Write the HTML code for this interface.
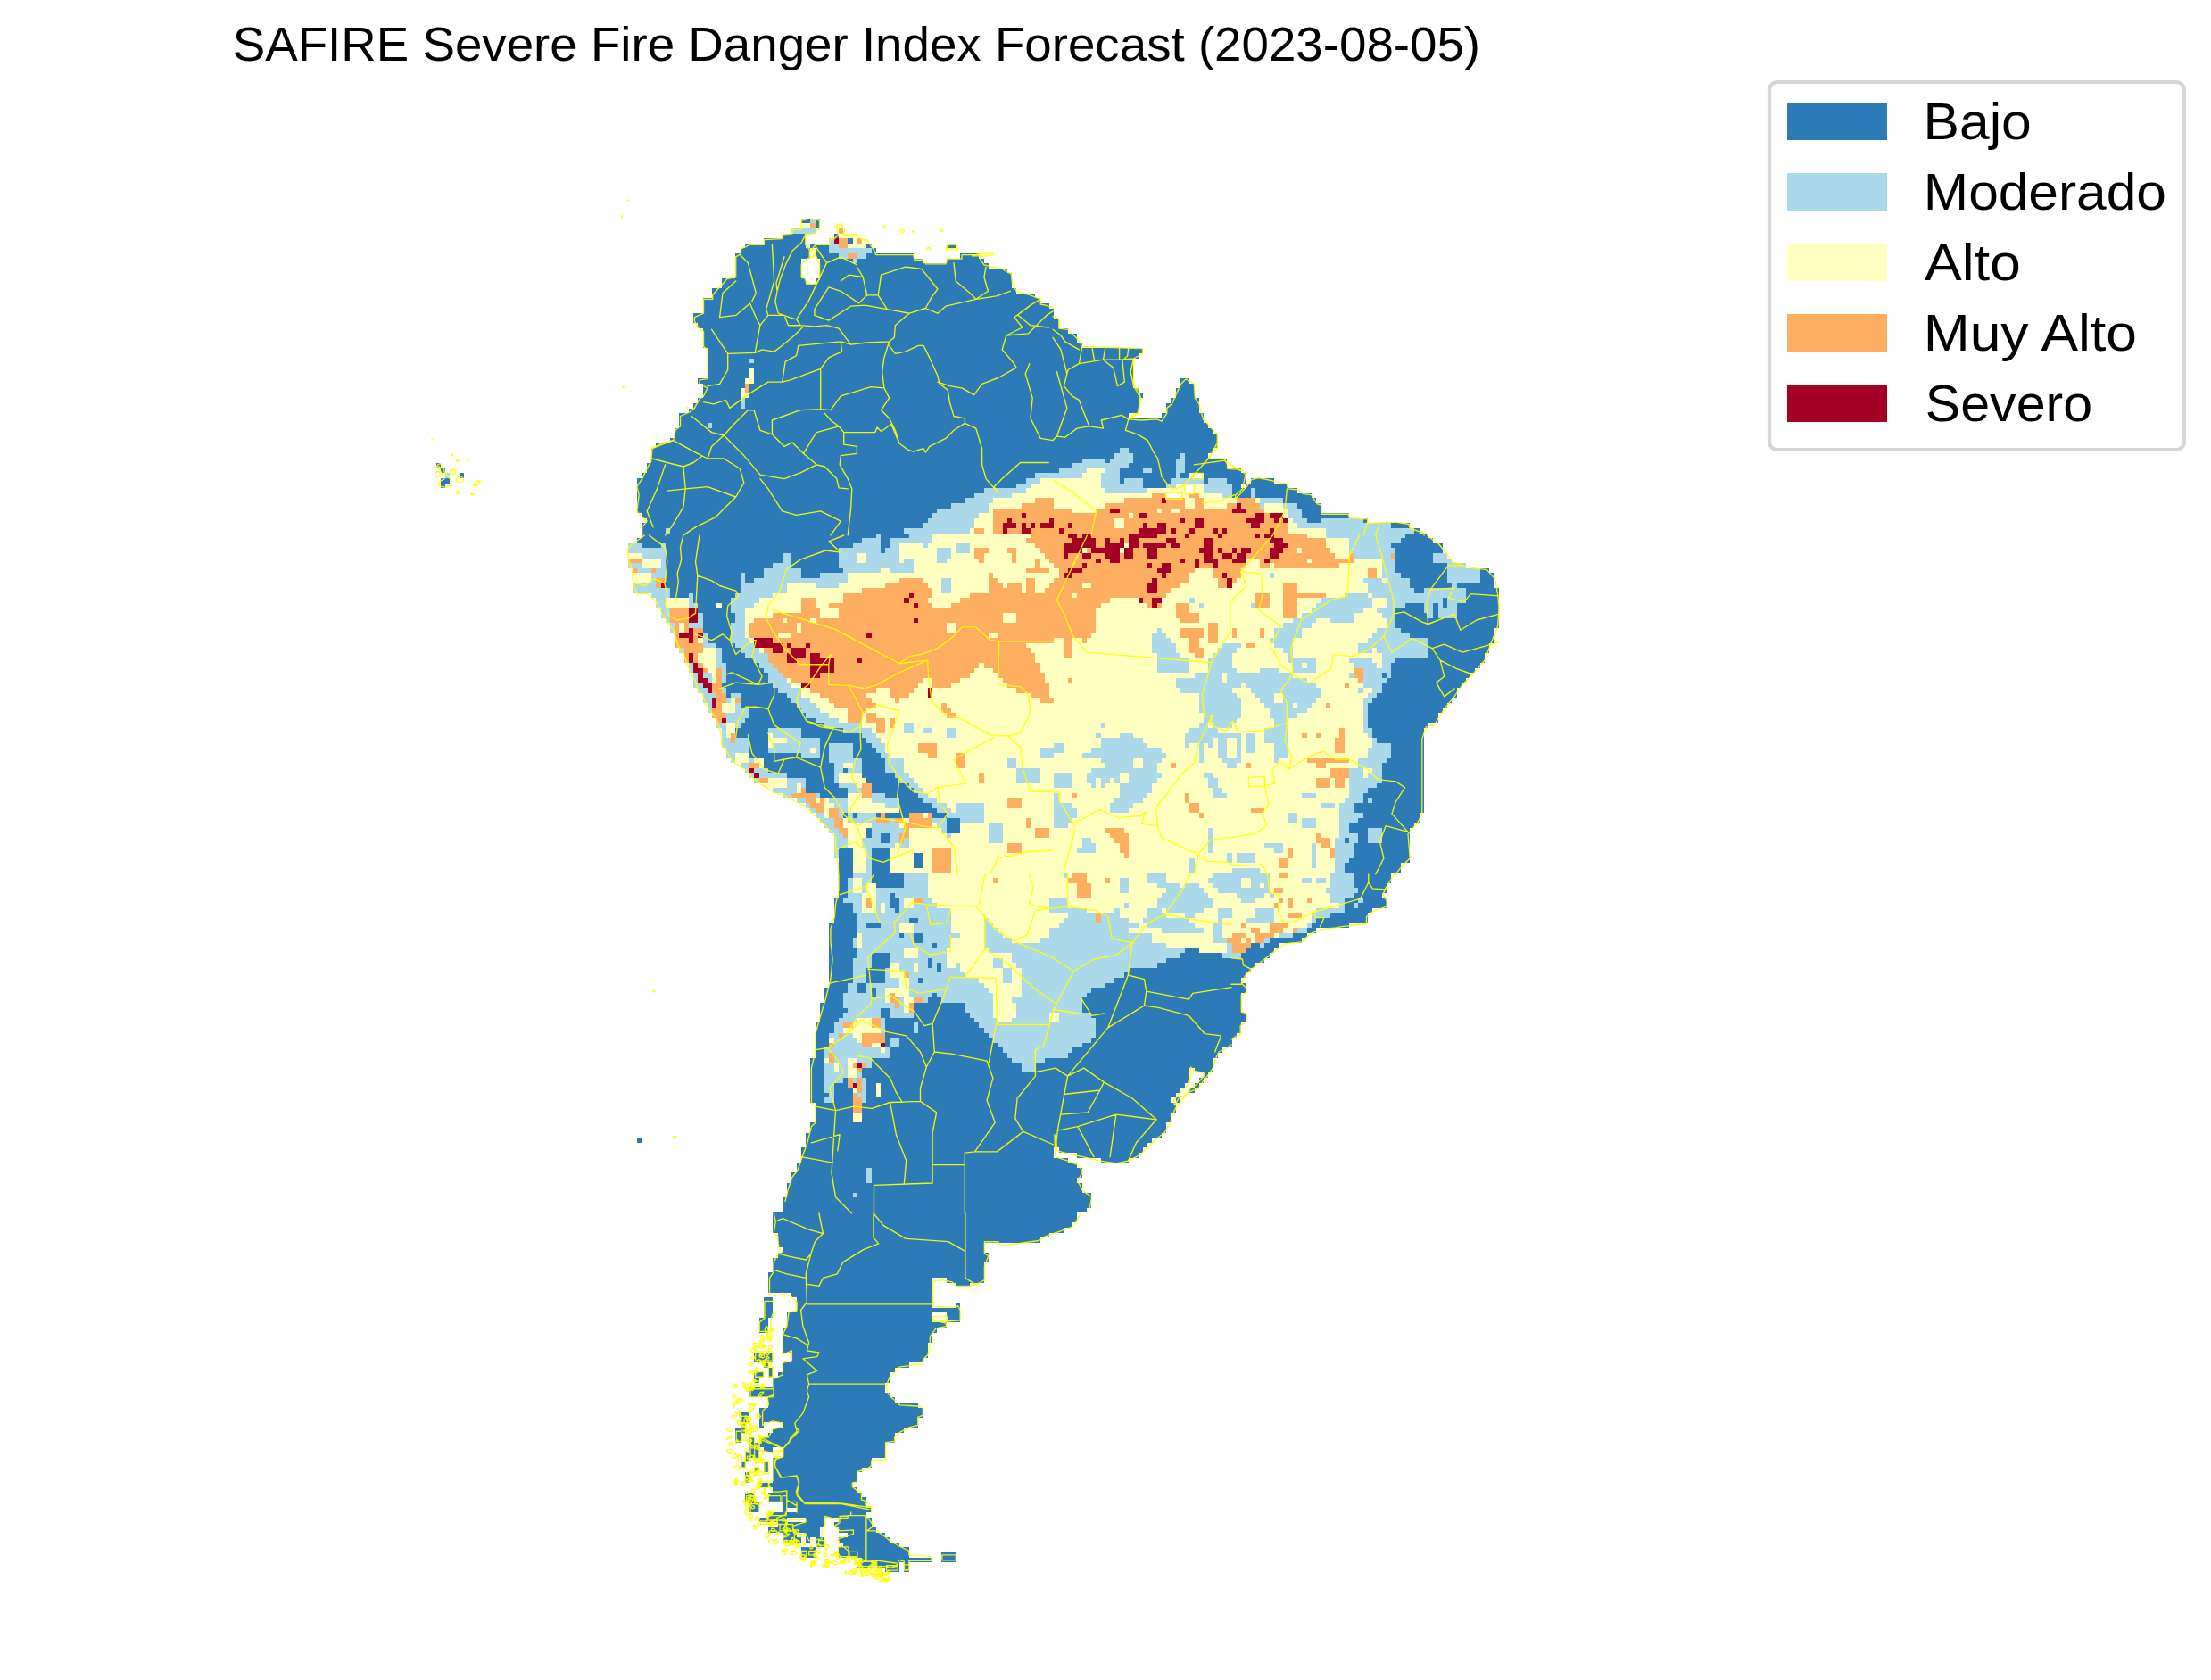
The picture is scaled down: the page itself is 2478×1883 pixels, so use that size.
<!DOCTYPE html>
<html><head><meta charset="utf-8"><title>SAFIRE Severe Fire Danger Index Forecast</title>
<style>
html,body{margin:0;padding:0;background:#fff;}
body{width:2478px;height:1883px;overflow:hidden;font-family:"Liberation Sans",sans-serif;}
svg{display:block}
text{font-family:"Liberation Sans",sans-serif;fill:#000}
</style></head><body>
<svg width="2478" height="1883" viewBox="0 0 2478 1883">
<rect width="2478" height="1883" fill="#fff"/>
<g shape-rendering="crispEdges">
<path fill="#2c7bb6" d="M898 245h10v5h-10zM914 245h5v5h-5zM914 250h5v6h-5zM877 262h26v5h-26zM935 262h5v5h-5zM856 267h47v6h-47zM950 267h6v6h-6zM835 273h68v5h-68zM908 273h21v5h-21zM971 273h6v5h-6zM1061 273h10v5h-10zM830 278h78v6h-78zM914 278h15v6h-15zM977 278h5v6h-5zM824 284h84v6h-84zM914 284h26v6h-26zM971 284h53v6h-53zM1076 284h21v6h-21zM824 290h74v5h-74zM919 290h37v5h-37zM961 290h73v5h-73zM1061 290h42v5h-42zM824 295h74v6h-74zM919 295h189v6h-189zM824 301h74v5h-74zM919 301h210v5h-210zM824 306h74v6h-74zM919 306h215v6h-215zM809 312h94v6h-94zM914 312h220v6h-220zM809 318h325v5h-325zM798 323h341v6h-341zM798 329h362v5h-362zM788 334h378v6h-378zM788 340h388v6h-388zM788 346h393v5h-393zM777 351h404v6h-404zM777 357h410v5h-410zM782 362h405v6h-405zM788 368h409v6h-409zM788 374h419v5h-419zM788 379h419v6h-419zM788 385h425v5h-425zM793 390h488v6h-488zM793 396h483v6h-483zM793 402h47v5h-47zM845 402h425v5h-425zM793 407h477v6h-477zM793 413h47v5h-47zM845 413h425v5h-425zM793 418h47v6h-47zM845 418h425v6h-425zM782 424h53v6h-53zM845 424h425v6h-425zM1323 424h10v6h-10zM788 430h47v5h-47zM840 430h430v5h-430zM1323 430h16v5h-16zM788 435h42v6h-42zM840 435h436v6h-436zM1318 435h21v6h-21zM788 441h42v5h-42zM840 441h441v5h-441zM1318 441h21v5h-21zM782 446h48v6h-48zM835 446h441v6h-441zM1312 446h32v6h-32zM777 452h53v6h-53zM835 452h441v6h-441zM1307 452h37v6h-37zM772 458h504v5h-504zM1307 458h37v5h-37zM761 463h504v6h-504zM1302 463h47v6h-47zM761 469h588v5h-588zM761 474h32v6h-32zM798 474h556v6h-556zM756 480h604v6h-604zM756 486h609v5h-609zM751 491h614v6h-614zM735 497h630v5h-630zM730 502h525v6h-525zM1265 502h95v6h-95zM730 508h519v6h-519zM1270 508h53v6h-53zM1328 508h26v6h-26zM730 514h483v5h-483zM1239 514h5v5h-5zM1270 514h48v5h-48zM1328 514h47v5h-47zM489 519h5v6h-5zM725 519h477v6h-477zM1265 519h53v6h-53zM1328 519h47v6h-47zM494 525h5v5h-5zM725 525h462v5h-462zM1255 525h26v5h-26zM1291 525h27v5h-27zM1328 525h63v5h-63zM515 530h5v6h-5zM720 530h440v6h-440zM1255 530h63v6h-63zM1323 530h10v6h-10zM1349 530h47v6h-47zM494 536h10v6h-10zM714 536h436v6h-436zM1255 536h5v6h-5zM1281 536h31v6h-31zM1349 536h5v6h-5zM1375 536h21v6h-21zM1402 536h26v6h-26zM494 542h5v5h-5zM714 542h425v5h-425zM1281 542h26v5h-26zM1381 542h10v5h-10zM1396 542h48v5h-48zM714 547h389v6h-389zM1381 547h21v6h-21zM1407 547h47v6h-47zM714 553h378v5h-378zM1381 553h21v5h-21zM1407 553h63v5h-63zM714 558h368v6h-368zM1438 558h37v6h-37zM714 564h352v6h-352zM1454 564h26v6h-26zM714 570h336v5h-336zM1459 570h21v5h-21zM720 575h325v6h-325zM1459 575h53v6h-53zM725 581h315v5h-315zM1465 581h15v5h-15zM1528 581h5v5h-5zM720 586h314v6h-314zM1559 586h21v6h-21zM720 592h26v6h-26zM751 592h262v6h-262zM1585 592h6v6h-6zM720 598h262v5h-262zM987 598h32v5h-32zM1575 598h26v5h-26zM714 603h252v6h-252zM987 603h11v6h-11zM1570 603h36v6h-36zM720 609h21v5h-21zM746 609h210v5h-210zM987 609h11v5h-11zM1559 609h58v5h-58zM746 614h194v6h-194zM987 614h5v6h-5zM1564 614h53v6h-53zM746 620h131v6h-131zM887 620h53v6h-53zM1564 620h42v6h-42zM746 626h131v5h-131zM887 626h53v5h-53zM1564 626h42v5h-42zM746 631h120v6h-120zM887 631h53v6h-53zM1564 631h58v6h-58zM746 637h110v5h-110zM898 637h47v5h-47zM1564 637h58v5h-58zM1659 637h10v5h-10zM746 642h84v6h-84zM835 642h21v6h-21zM898 642h21v6h-21zM1570 642h52v6h-52zM1659 642h15v6h-15zM746 648h84v6h-84zM835 648h10v6h-10zM1580 648h42v6h-42zM1659 648h15v6h-15zM746 654h84v5h-84zM1580 654h47v5h-47zM1633 654h41v5h-41zM751 659h79v6h-79zM1585 659h11v6h-11zM1643 659h37v6h-37zM751 665h21v5h-21zM777 665h47v5h-47zM1643 665h37v5h-37zM777 670h42v6h-42zM1617 670h5v6h-5zM1643 670h37v6h-37zM782 676h21v6h-21zM809 676h10v6h-10zM1575 676h21v6h-21zM1606 676h6v6h-6zM1617 676h5v6h-5zM1633 676h47v6h-47zM782 682h37v5h-37zM1564 682h32v5h-32zM1606 682h6v5h-6zM1633 682h47v5h-47zM788 687h36v6h-36zM1564 687h37v6h-37zM1606 687h6v6h-6zM1633 687h47v6h-47zM788 693h36v5h-36zM1564 693h116v5h-116zM788 698h31v6h-31zM1564 698h116v6h-116zM788 704h31v6h-31zM1570 704h104v6h-104zM793 710h26v5h-26zM1580 710h94v5h-94zM793 715h26v6h-26zM1601 715h73v6h-73zM803 721h21v5h-21zM1601 721h68v5h-68zM809 726h21v6h-21zM1601 726h68v6h-68zM809 732h26v6h-26zM1601 732h63v6h-63zM809 738h36v5h-36zM1564 738h100v5h-100zM814 743h37v6h-37zM1559 743h100v6h-100zM814 749h42v5h-42zM1559 749h94v5h-94zM814 754h47v6h-47zM1549 754h5v6h-5zM1559 754h89v6h-89zM814 760h47v6h-47zM1554 760h89v6h-89zM809 766h57v5h-57zM1549 766h89v5h-89zM814 771h58v6h-58zM1549 771h84v6h-84zM814 777h5v5h-5zM830 777h52v5h-52zM1543 777h90v5h-90zM830 782h57v6h-57zM1538 782h89v6h-89zM830 788h63v6h-63zM1533 788h89v6h-89zM840 794h58v5h-58zM1533 794h84v5h-84zM840 799h63v6h-63zM1533 799h79v6h-79zM835 805h79v5h-79zM1533 805h79v5h-79zM830 810h94v6h-94zM1533 810h68v6h-68zM824 816h37v6h-37zM898 816h47v6h-47zM1538 816h58v6h-58zM824 822h37v5h-37zM898 822h68v5h-68zM1538 822h58v5h-58zM840 827h21v6h-21zM919 827h52v6h-52zM1543 827h53v6h-53zM840 833h21v5h-21zM919 833h10v5h-10zM956 833h21v5h-21zM1559 833h37v5h-37zM840 838h21v6h-21zM919 838h10v6h-10zM956 838h26v6h-26zM1559 838h37v6h-37zM840 844h58v6h-58zM919 844h10v6h-10zM956 844h31v6h-31zM1559 844h37v6h-37zM856 850h73v5h-73zM966 850h26v5h-26zM1554 850h42v5h-42zM856 855h79v6h-79zM966 855h26v6h-26zM1549 855h47v6h-47zM861 861h74v5h-74zM945 861h5v5h-5zM966 861h26v5h-26zM1549 861h47v5h-47zM882 866h53v6h-53zM966 866h37v6h-37zM1549 866h47v6h-47zM903 872h32v6h-32zM971 872h37v6h-37zM1549 872h47v6h-47zM903 878h37v5h-37zM977 878h42v5h-42zM1543 878h53v5h-53zM903 883h47v6h-47zM977 883h47v6h-47zM1533 883h63v6h-63zM919 889h31v5h-31zM992 889h37v5h-37zM1528 889h68v5h-68zM1008 894h26v6h-26zM1528 894h5v6h-5zM1538 894h58v6h-58zM1008 900h37v6h-37zM1517 900h79v6h-79zM1008 906h42v5h-42zM1517 906h79v5h-79zM945 911h5v6h-5zM956 911h5v6h-5zM982 911h5v6h-5zM992 911h27v6h-27zM1045 911h16v6h-16zM1528 911h63v6h-63zM1061 917h15v5h-15zM1522 917h69v5h-69zM1061 922h15v6h-15zM1512 922h73v6h-73zM971 928h6v6h-6zM1061 928h15v6h-15zM1512 928h21v6h-21zM1549 928h31v6h-31zM971 934h6v5h-6zM987 934h11v5h-11zM1522 934h11v5h-11zM1549 934h31v5h-31zM987 939h11v6h-11zM1507 939h5v6h-5zM1522 939h11v6h-11zM1549 939h31v6h-31zM1517 945h63v5h-63zM940 950h16v6h-16zM977 950h21v6h-21zM1517 950h63v6h-63zM940 956h16v6h-16zM977 956h21v6h-21zM1024 956h10v6h-10zM1517 956h63v6h-63zM940 962h16v5h-16zM977 962h21v5h-21zM1024 962h10v5h-10zM1512 962h68v5h-68zM940 967h16v6h-16zM977 967h21v6h-21zM1024 967h10v6h-10zM1507 967h63v6h-63zM940 973h16v5h-16zM977 973h21v5h-21zM1507 973h63v5h-63zM940 978h16v6h-16zM977 978h36v6h-36zM1517 978h42v6h-42zM940 984h10v6h-10zM977 984h36v6h-36zM1517 984h42v6h-42zM940 990h10v5h-10zM982 990h31v5h-31zM1517 990h37v5h-37zM940 995h10v6h-10zM1522 995h32v6h-32zM940 1001h10v5h-10zM998 1001h5v5h-5zM1517 1001h32v5h-32zM935 1006h10v6h-10zM998 1006h10v6h-10zM1507 1006h15v6h-15zM1528 1006h26v6h-26zM935 1012h21v6h-21zM998 1012h10v6h-10zM1507 1012h10v6h-10zM1522 1012h32v6h-32zM935 1018h21v5h-21zM1003 1018h5v5h-5zM1507 1018h31v5h-31zM935 1023h26v6h-26zM1491 1023h42v6h-42zM935 1029h26v5h-26zM1019 1029h10v5h-10zM1475 1029h58v5h-58zM929 1034h32v6h-32zM971 1034h16v6h-16zM1470 1034h42v6h-42zM929 1040h32v6h-32zM1465 1040h10v6h-10zM929 1046h32v5h-32zM1008 1046h5v5h-5zM1024 1046h10v5h-10zM1449 1046h16v5h-16zM929 1051h27v6h-27zM1024 1051h10v6h-10zM1423 1051h36v6h-36zM929 1057h27v5h-27zM1045 1057h5v5h-5zM1402 1057h10v5h-10zM1417 1057h16v5h-16zM929 1062h32v6h-32zM1328 1062h16v6h-16zM1396 1062h32v6h-32zM929 1068h32v6h-32zM977 1068h21v6h-21zM1323 1068h47v6h-47zM1391 1068h32v6h-32zM929 1074h27v5h-27zM977 1074h21v5h-21zM1040 1074h5v5h-5zM1307 1074h110v5h-110zM929 1079h27v6h-27zM977 1079h21v6h-21zM1040 1079h5v6h-5zM1050 1079h5v6h-5zM1297 1079h110v6h-110zM929 1085h27v5h-27zM971 1085h21v5h-21zM1050 1085h5v5h-5zM1265 1085h137v5h-137zM929 1090h27v6h-27zM971 1090h21v6h-21zM1260 1090h136v6h-136zM929 1096h27v6h-27zM971 1096h21v6h-21zM1029 1096h5v6h-5zM1249 1096h142v6h-142zM929 1102h21v5h-21zM961 1102h10v5h-10zM1239 1102h157v5h-157zM924 1107h26v6h-26zM961 1107h10v6h-10zM977 1107h5v6h-5zM1223 1107h173v6h-173zM924 1113h21v5h-21zM977 1113h5v5h-5zM1045 1113h5v5h-5zM1218 1113h173v5h-173zM924 1118h21v6h-21zM1040 1118h15v6h-15zM1213 1118h178v6h-178zM919 1124h26v6h-26zM1024 1124h58v6h-58zM1213 1124h178v6h-178zM919 1130h31v5h-31zM987 1130h11v5h-11zM1024 1130h58v5h-58zM1213 1130h178v5h-178zM919 1135h26v6h-26zM987 1135h11v6h-11zM1024 1135h63v6h-63zM1223 1135h173v6h-173zM919 1141h21v5h-21zM992 1141h100v5h-100zM1228 1141h168v5h-168zM914 1146h21v6h-21zM992 1146h32v6h-32zM1029 1146h68v6h-68zM1228 1146h163v6h-163zM914 1152h21v6h-21zM992 1152h32v6h-32zM1029 1152h74v6h-74zM1228 1152h163v6h-163zM914 1158h15v5h-15zM992 1158h116v5h-116zM1228 1158h158v5h-158zM914 1163h15v6h-15zM992 1163h6v6h-6zM1008 1163h105v6h-105zM1223 1163h158v6h-158zM914 1169h15v5h-15zM992 1169h6v5h-6zM1008 1169h110v5h-110zM1213 1169h168v5h-168zM914 1174h10v6h-10zM998 1174h126v6h-126zM1202 1174h168v6h-168zM914 1180h10v6h-10zM998 1180h131v6h-131zM1197 1180h168v6h-168zM908 1186h16v5h-16zM977 1186h157v5h-157zM1171 1186h189v5h-189zM908 1191h16v6h-16zM977 1191h168v6h-168zM1160 1191h200v6h-200zM908 1197h16v5h-16zM966 1197h179v5h-179zM1160 1197h173v5h-173zM1339 1197h21v5h-21zM908 1202h16v6h-16zM966 1202h367v6h-367zM1349 1202h5v6h-5zM908 1208h16v6h-16zM945 1208h5v6h-5zM971 1208h362v6h-362zM1344 1208h5v6h-5zM908 1214h16v5h-16zM935 1214h15v5h-15zM971 1214h11v5h-11zM987 1214h341v5h-341zM1339 1214h5v5h-5zM908 1219h16v6h-16zM935 1219h21v6h-21zM971 1219h11v6h-11zM987 1219h336v6h-336zM1333 1219h6v6h-6zM908 1225h21v5h-21zM935 1225h21v5h-21zM971 1225h11v5h-11zM987 1225h331v5h-331zM908 1230h16v6h-16zM935 1230h21v6h-21zM971 1230h341v6h-341zM1318 1230h5v6h-5zM914 1236h42v6h-42zM966 1236h352v6h-352zM914 1242h42v5h-42zM966 1242h352v5h-352zM914 1247h42v6h-42zM966 1247h346v6h-346zM914 1253h42v5h-42zM966 1253h346v5h-346zM908 1258h399v6h-399zM908 1264h399v6h-399zM903 1270h399v5h-399zM714 1275h6v6h-6zM903 1275h388v6h-388zM903 1281h383v5h-383zM898 1286h283v6h-283zM1187 1286h94v6h-94zM898 1292h283v6h-283zM1207 1292h69v6h-69zM898 1298h299v5h-299zM1234 1298h31v5h-31zM893 1303h314v6h-314zM893 1309h78v5h-78zM977 1309h236v5h-236zM887 1314h84v6h-84zM977 1314h236v6h-236zM887 1320h84v6h-84zM977 1320h230v6h-230zM882 1326h331v5h-331zM882 1331h331v6h-331zM882 1337h74v5h-74zM961 1337h262v5h-262zM877 1342h346v6h-346zM877 1348h346v6h-346zM877 1354h341v5h-341zM866 1359h341v6h-341zM866 1365h341v5h-341zM866 1370h336v6h-336zM866 1376h326v6h-326zM872 1382h304v5h-304zM872 1387h294v6h-294zM872 1393h231v5h-231zM877 1398h226v6h-226zM872 1404h236v6h-236zM866 1410h242v5h-242zM866 1415h237v6h-237zM866 1421h237v5h-237zM861 1426h242v6h-242zM861 1432h184v6h-184zM1061 1432h42v6h-42zM861 1438h184v5h-184zM1071 1438h16v5h-16zM861 1443h184v6h-184zM887 1449h158v5h-158zM856 1454h10v6h-10zM893 1454h152v6h-152zM856 1460h10v6h-10zM893 1460h152v6h-152zM1071 1460h5v6h-5zM856 1466h10v5h-10zM893 1466h183v5h-183zM856 1471h10v6h-10zM882 1471h163v6h-163zM1061 1471h15v6h-15zM851 1477h10v5h-10zM882 1477h163v5h-163zM1061 1477h15v5h-15zM851 1482h10v6h-10zM882 1482h179v6h-179zM851 1488h10v6h-10zM877 1488h173v6h-173zM877 1494h168v5h-168zM877 1499h168v6h-168zM877 1505h163v5h-163zM877 1510h163v6h-163zM845 1516h21v6h-21zM887 1516h153v6h-153zM845 1522h21v5h-21zM887 1522h147v5h-147zM856 1527h5v6h-5zM877 1527h142v6h-142zM861 1533h5v5h-5zM877 1533h126v5h-126zM845 1538h11v6h-11zM861 1538h5v6h-5zM872 1538h126v6h-126zM845 1544h6v6h-6zM866 1544h132v6h-132zM866 1550h126v5h-126zM840 1555h152v6h-152zM840 1561h158v5h-158zM861 1566h142v6h-142zM861 1572h168v6h-168zM851 1578h183v5h-183zM830 1583h10v6h-10zM851 1583h183v6h-183zM830 1589h10v5h-10zM851 1589h178v5h-178zM830 1594h5v6h-5zM851 1594h5v6h-5zM877 1594h152v6h-152zM824 1600h11v6h-11zM866 1600h147v6h-147zM824 1606h6v5h-6zM861 1606h142v5h-142zM824 1611h6v6h-6zM840 1611h5v6h-5zM851 1611h152v6h-152zM840 1617h152v5h-152zM840 1622h11v6h-11zM856 1622h10v6h-10zM877 1622h115v6h-115zM835 1628h16v6h-16zM877 1628h115v6h-115zM835 1634h5v5h-5zM866 1634h111v5h-111zM830 1639h5v6h-5zM856 1639h5v6h-5zM866 1639h111v6h-111zM845 1645h6v5h-6zM856 1645h5v5h-5zM866 1645h100v5h-100zM835 1650h5v6h-5zM866 1650h95v6h-95zM835 1656h5v6h-5zM866 1656h95v6h-95zM851 1662h105v5h-105zM866 1667h95v6h-95zM835 1673h10v5h-10zM861 1673h105v5h-105zM835 1678h10v6h-10zM861 1678h110v6h-110zM840 1684h11v6h-11zM877 1684h94v6h-94zM840 1690h11v5h-11zM877 1690h5v5h-5zM893 1690h84v5h-84zM861 1695h110v6h-110zM851 1701h31v5h-31zM903 1701h21v5h-21zM940 1701h37v5h-37zM872 1706h52v6h-52zM935 1706h42v6h-42zM861 1712h58v6h-58zM940 1712h42v6h-42zM877 1718h16v5h-16zM903 1718h16v5h-16zM950 1718h42v5h-42zM877 1723h21v6h-21zM903 1723h5v6h-5zM914 1723h10v6h-10zM940 1723h58v6h-58zM914 1729h10v5h-10zM945 1729h63v5h-63zM898 1734h16v6h-16zM940 1734h79v6h-79zM898 1740h16v6h-16zM940 1740h79v6h-79zM1055 1740h16v6h-16zM966 1746h79v5h-79zM1055 1746h16v5h-16zM961 1751h16v6h-16zM982 1751h26v6h-26zM1013 1751h6v6h-6zM992 1757h16v5h-16zM1013 1757h6v5h-6z"/>
<path fill="#abd9e9" d="M908 245h6v5h-6zM887 256h27v6h-27zM929 267h6v6h-6zM929 273h11v5h-11zM929 278h48v6h-48zM940 284h10v6h-10zM961 284h10v6h-10zM956 290h5v5h-5zM840 402h5v5h-5zM830 446h5v6h-5zM830 452h5v6h-5zM793 474h5v6h-5zM1255 502h10v6h-10zM1249 508h21v6h-21zM1323 508h5v6h-5zM1213 514h26v5h-26zM1244 514h26v5h-26zM1318 514h10v5h-10zM1202 519h63v6h-63zM1318 519h10v6h-10zM1187 525h31v5h-31zM1239 525h16v5h-16zM1281 525h10v5h-10zM1318 525h10v5h-10zM499 530h5v6h-5zM1160 530h53v6h-53zM1234 530h21v6h-21zM1318 530h5v6h-5zM1150 536h16v6h-16zM1234 536h21v6h-21zM1260 536h21v6h-21zM1312 536h37v6h-37zM1354 536h21v6h-21zM1139 542h16v5h-16zM1234 542h47v5h-47zM1307 542h11v5h-11zM1349 542h32v5h-32zM1103 547h47v6h-47zM1239 547h47v6h-47zM1349 547h32v6h-32zM1402 547h5v6h-5zM1092 553h42v5h-42zM1370 553h11v5h-11zM1402 553h5v5h-5zM1082 558h31v6h-31zM1412 558h26v6h-26zM1066 564h42v6h-42zM1412 564h5v6h-5zM1438 564h16v6h-16zM1050 570h58v5h-58zM1444 570h15v5h-15zM1045 575h52v6h-52zM1444 575h15v6h-15zM1040 581h52v5h-52zM1449 581h16v5h-16zM1480 581h48v5h-48zM1034 586h58v6h-58zM1454 586h105v6h-105zM746 592h5v6h-5zM1013 592h74v6h-74zM1486 592h99v6h-99zM982 598h5v5h-5zM1019 598h26v5h-26zM1486 598h89v5h-89zM966 603h21v6h-21zM998 603h47v6h-47zM1512 603h58v6h-58zM704 609h16v5h-16zM741 609h5v5h-5zM956 609h31v5h-31zM998 609h10v5h-10zM1034 609h6v5h-6zM1071 609h16v5h-16zM1512 609h47v5h-47zM704 614h42v6h-42zM940 614h47v6h-47zM992 614h16v6h-16zM1050 614h16v6h-16zM1071 614h16v6h-16zM1512 614h52v6h-52zM720 620h26v6h-26zM877 620h10v6h-10zM940 620h21v6h-21zM971 620h37v6h-37zM1050 620h16v6h-16zM1517 620h42v6h-42zM1606 620h16v6h-16zM741 626h5v5h-5zM877 626h10v5h-10zM940 626h21v5h-21zM971 626h37v5h-37zM1013 626h11v5h-11zM1050 626h11v5h-11zM1549 626h15v5h-15zM1606 626h21v5h-21zM704 631h16v6h-16zM741 631h5v6h-5zM866 631h21v6h-21zM940 631h84v6h-84zM1549 631h15v6h-15zM1622 631h21v6h-21zM714 637h16v5h-16zM735 637h11v5h-11zM856 637h42v5h-42zM945 637h42v5h-42zM998 637h26v5h-26zM1549 637h15v5h-15zM1622 637h37v5h-37zM730 642h16v6h-16zM830 642h5v6h-5zM856 642h42v6h-42zM919 642h31v6h-31zM1423 642h5v6h-5zM1549 642h21v6h-21zM1622 642h37v6h-37zM730 648h5v6h-5zM830 648h5v6h-5zM845 648h105v6h-105zM1055 648h11v6h-11zM1528 648h21v6h-21zM1554 648h26v6h-26zM1622 648h37v6h-37zM709 654h26v5h-26zM830 654h52v5h-52zM914 654h26v5h-26zM1055 654h11v5h-11zM1533 654h47v5h-47zM1627 654h6v5h-6zM709 659h42v6h-42zM830 659h52v6h-52zM1055 659h11v6h-11zM1533 659h52v6h-52zM1596 659h47v6h-47zM730 665h21v5h-21zM772 665h5v5h-5zM824 665h42v5h-42zM1507 665h26v5h-26zM1538 665h105v5h-105zM735 670h11v6h-11zM772 670h5v6h-5zM819 670h32v6h-32zM1333 670h6v6h-6zM1480 670h58v6h-58zM1554 670h63v6h-63zM1622 670h21v6h-21zM735 676h11v6h-11zM772 676h10v6h-10zM819 676h26v6h-26zM1344 676h5v6h-5zM1402 676h5v6h-5zM1475 676h63v6h-63zM1554 676h21v6h-21zM1596 676h10v6h-10zM1612 676h5v6h-5zM1622 676h11v6h-11zM741 682h10v5h-10zM819 682h16v5h-16zM1470 682h58v5h-58zM1543 682h21v5h-21zM1596 682h10v5h-10zM1612 682h21v5h-21zM741 687h10v6h-10zM782 687h6v6h-6zM824 687h11v6h-11zM1459 687h58v6h-58zM1549 687h15v6h-15zM1601 687h5v6h-5zM1612 687h21v6h-21zM746 693h5v5h-5zM782 693h6v5h-6zM824 693h11v5h-11zM1449 693h26v5h-26zM1491 693h26v5h-26zM1554 693h10v5h-10zM751 698h5v6h-5zM772 698h16v6h-16zM819 698h16v6h-16zM1438 698h32v6h-32zM1554 698h10v6h-10zM751 704h5v6h-5zM819 704h16v6h-16zM1297 704h5v6h-5zM1428 704h31v6h-31zM1543 704h27v6h-27zM788 710h5v5h-5zM819 710h16v5h-16zM1291 710h16v5h-16zM1428 710h31v5h-31zM1538 710h42v5h-42zM788 715h5v6h-5zM819 715h21v6h-21zM1291 715h21v6h-21zM1423 715h26v6h-26zM1533 715h68v6h-68zM788 721h15v5h-15zM824 721h21v5h-21zM1291 721h27v5h-27zM1370 721h21v5h-21zM1428 721h21v5h-21zM1522 721h79v5h-79zM761 726h6v6h-6zM803 726h6v6h-6zM830 726h21v6h-21zM1291 726h27v6h-27zM1365 726h21v6h-21zM1438 726h11v6h-11zM1522 726h16v6h-16zM1543 726h58v6h-58zM803 732h6v6h-6zM835 732h26v6h-26zM1297 732h26v6h-26zM1360 732h21v6h-21zM1444 732h5v6h-5zM1549 732h52v6h-52zM803 738h6v5h-6zM845 738h16v5h-16zM1297 738h36v5h-36zM1354 738h27v5h-27zM1444 738h31v5h-31zM1512 738h26v5h-26zM1549 738h15v5h-15zM772 743h5v6h-5zM803 743h11v6h-11zM851 743h15v6h-15zM1297 743h36v6h-36zM1354 743h27v6h-27zM1449 743h10v6h-10zM1465 743h10v6h-10zM1517 743h26v6h-26zM1549 743h10v6h-10zM772 749h5v5h-5zM809 749h5v5h-5zM856 749h16v5h-16zM1297 749h36v5h-36zM1354 749h32v5h-32zM1412 749h21v5h-21zM1449 749h26v5h-26zM1528 749h31v5h-31zM777 754h5v6h-5zM788 754h10v6h-10zM809 754h5v6h-5zM861 754h16v6h-16zM1339 754h31v6h-31zM1375 754h74v6h-74zM1512 754h5v6h-5zM1528 754h21v6h-21zM1554 754h5v6h-5zM777 760h5v6h-5zM793 760h5v6h-5zM809 760h5v6h-5zM861 760h21v6h-21zM1318 760h52v6h-52zM1375 760h90v6h-90zM1528 760h26v6h-26zM777 766h11v5h-11zM866 766h21v5h-21zM1318 766h73v5h-73zM1396 766h79v5h-79zM1528 766h21v5h-21zM782 771h11v6h-11zM809 771h5v6h-5zM872 771h26v6h-26zM1323 771h58v6h-58zM1402 771h78v6h-78zM1522 771h6v6h-6zM1538 771h11v6h-11zM788 777h15v5h-15zM819 777h11v5h-11zM882 777h16v5h-16zM1344 777h42v5h-42zM1407 777h21v5h-21zM1438 777h42v5h-42zM1533 777h10v5h-10zM788 782h10v6h-10zM814 782h5v6h-5zM887 782h21v6h-21zM1344 782h47v6h-47zM1412 782h16v6h-16zM1438 782h37v6h-37zM1528 782h10v6h-10zM793 788h5v6h-5zM824 788h6v6h-6zM893 788h21v6h-21zM1344 788h47v6h-47zM1417 788h32v6h-32zM1454 788h16v6h-16zM1528 788h5v6h-5zM793 794h5v5h-5zM824 794h16v5h-16zM898 794h21v5h-21zM1344 794h47v5h-47zM1423 794h42v5h-42zM1528 794h5v5h-5zM814 799h26v6h-26zM903 799h26v6h-26zM1349 799h42v6h-42zM1423 799h31v6h-31zM1528 799h5v6h-5zM814 805h21v5h-21zM914 805h26v5h-26zM1349 805h37v5h-37zM1428 805h16v5h-16zM1528 805h5v5h-5zM803 810h11v6h-11zM824 810h6v6h-6zM924 810h42v6h-42zM1013 810h11v6h-11zM1234 810h5v6h-5zM1344 810h10v6h-10zM1360 810h21v6h-21zM1428 810h16v6h-16zM1528 810h5v6h-5zM809 816h5v6h-5zM861 816h37v6h-37zM945 816h32v6h-32zM1013 816h11v6h-11zM1034 816h11v6h-11zM1061 816h10v6h-10zM1333 816h32v6h-32zM1417 816h27v6h-27zM1528 816h10v6h-10zM809 822h5v5h-5zM866 822h32v5h-32zM966 822h16v5h-16zM1061 822h10v5h-10zM1228 822h6v5h-6zM1255 822h15v5h-15zM1328 822h63v5h-63zM1396 822h11v5h-11zM1417 822h27v5h-27zM1533 822h5v5h-5zM809 827h10v6h-10zM824 827h16v6h-16zM882 827h37v6h-37zM971 827h16v6h-16zM1234 827h47v6h-47zM1328 827h32v6h-32zM1365 827h10v6h-10zM1386 827h5v6h-5zM1396 827h11v6h-11zM1417 827h27v6h-27zM1538 827h5v6h-5zM809 833h31v5h-31zM866 833h53v5h-53zM929 833h27v5h-27zM977 833h15v5h-15zM1181 833h11v5h-11zM1234 833h52v5h-52zM1328 833h5v5h-5zM1344 833h5v5h-5zM1354 833h6v5h-6zM1365 833h10v5h-10zM1386 833h5v5h-5zM1396 833h11v5h-11zM1428 833h16v5h-16zM1538 833h21v5h-21zM814 838h26v6h-26zM861 838h47v6h-47zM914 838h5v6h-5zM929 838h27v6h-27zM982 838h10v6h-10zM1166 838h26v6h-26zM1223 838h79v6h-79zM1344 838h5v6h-5zM1365 838h10v6h-10zM1386 838h5v6h-5zM1396 838h11v6h-11zM1428 838h16v6h-16zM1533 838h26v6h-26zM814 844h10v6h-10zM898 844h21v6h-21zM929 844h27v6h-27zM987 844h11v6h-11zM1166 844h15v6h-15zM1213 844h94v6h-94zM1344 844h5v6h-5zM1365 844h10v6h-10zM1386 844h5v6h-5zM1428 844h16v6h-16zM1533 844h26v6h-26zM819 850h5v5h-5zM840 850h5v5h-5zM929 850h37v5h-37zM992 850h21v5h-21zM1129 850h10v5h-10zM1234 850h36v5h-36zM1281 850h21v5h-21zM1344 850h5v5h-5zM1370 850h21v5h-21zM1428 850h5v5h-5zM1522 850h32v5h-32zM830 855h10v6h-10zM935 855h10v6h-10zM956 855h10v6h-10zM992 855h21v6h-21zM1129 855h10v6h-10zM1239 855h31v6h-31zM1281 855h16v6h-16zM1375 855h11v6h-11zM1522 855h27v6h-27zM835 861h5v5h-5zM845 861h16v5h-16zM935 861h10v5h-10zM950 861h16v5h-16zM992 861h21v5h-21zM1139 861h27v5h-27zM1223 861h74v5h-74zM1512 861h16v5h-16zM1538 861h11v5h-11zM840 866h5v6h-5zM851 866h31v6h-31zM935 866h5v6h-5zM1003 866h16v6h-16zM1139 866h27v6h-27zM1181 866h21v6h-21zM1218 866h37v6h-37zM1265 866h37v6h-37zM1349 866h11v6h-11zM1512 866h16v6h-16zM1533 866h16v6h-16zM845 872h6v6h-6zM882 872h21v6h-21zM935 872h5v6h-5zM1008 872h16v6h-16zM1139 872h27v6h-27zM1181 872h21v6h-21zM1218 872h10v6h-10zM1234 872h10v6h-10zM1249 872h6v6h-6zM1265 872h32v6h-32zM1354 872h11v6h-11zM1512 872h37v6h-37zM882 878h11v5h-11zM898 878h5v5h-5zM940 878h21v5h-21zM1019 878h10v5h-10zM1181 878h21v5h-21zM1223 878h5v5h-5zM1234 878h5v5h-5zM1255 878h36v5h-36zM1354 878h11v5h-11zM1512 878h31v5h-31zM866 883h27v6h-27zM950 883h16v6h-16zM1024 883h10v6h-10zM1255 883h36v6h-36zM1360 883h10v6h-10zM1512 883h21v6h-21zM877 889h10v5h-10zM914 889h5v5h-5zM977 889h15v5h-15zM1029 889h11v5h-11zM1181 889h6v5h-6zM1255 889h31v5h-31zM1360 889h15v5h-15zM1459 889h16v5h-16zM1512 889h16v5h-16zM893 894h10v6h-10zM929 894h21v6h-21zM977 894h31v6h-31zM1034 894h16v6h-16zM1181 894h6v6h-6zM1249 894h32v6h-32zM1507 894h21v6h-21zM1533 894h5v6h-5zM903 900h5v6h-5zM935 900h15v6h-15zM992 900h16v6h-16zM1045 900h16v6h-16zM1071 900h32v6h-32zM1181 900h21v6h-21zM1244 900h26v6h-26zM1480 900h16v6h-16zM1501 900h16v6h-16zM908 906h6v5h-6zM940 906h10v5h-10zM1050 906h16v5h-16zM1071 906h32v5h-32zM1181 906h26v5h-26zM1244 906h21v5h-21zM1501 906h16v5h-16zM914 911h10v6h-10zM940 911h5v6h-5zM950 911h6v6h-6zM961 911h21v6h-21zM1061 911h42v6h-42zM1181 911h26v6h-26zM1444 911h10v6h-10zM1501 911h27v6h-27zM919 917h16v5h-16zM950 917h32v5h-32zM998 917h5v5h-5zM1045 917h16v5h-16zM1076 917h27v5h-27zM1181 917h21v5h-21zM1444 917h10v5h-10zM1459 917h16v5h-16zM1501 917h21v5h-21zM924 922h11v6h-11zM977 922h31v6h-31zM1050 922h11v6h-11zM1108 922h16v6h-16zM1181 922h16v6h-16zM1459 922h16v6h-16zM1501 922h11v6h-11zM929 928h11v6h-11zM977 928h36v6h-36zM1055 928h6v6h-6zM1108 928h16v6h-16zM1354 928h6v6h-6zM1501 928h11v6h-11zM1533 928h16v6h-16zM935 934h10v5h-10zM977 934h10v5h-10zM998 934h10v5h-10zM1061 934h5v5h-5zM1108 934h16v5h-16zM1354 934h6v5h-6zM1501 934h21v5h-21zM1533 934h16v5h-16zM935 939h15v6h-15zM966 939h21v6h-21zM998 939h10v6h-10zM1013 939h6v6h-6zM1108 939h16v6h-16zM1213 939h10v6h-10zM1354 939h6v6h-6zM1496 939h11v6h-11zM1512 939h10v6h-10zM1533 939h16v6h-16zM935 945h15v5h-15zM966 945h37v5h-37zM1008 945h11v5h-11zM1213 945h15v5h-15zM1354 945h6v5h-6zM1417 945h21v5h-21zM1470 945h5v5h-5zM1496 945h21v5h-21zM935 950h5v6h-5zM971 950h6v6h-6zM1207 950h21v6h-21zM1354 950h6v6h-6zM1428 950h10v6h-10zM1470 950h5v6h-5zM1496 950h21v6h-21zM935 956h5v6h-5zM971 956h6v6h-6zM1375 956h6v6h-6zM1386 956h21v6h-21zM1470 956h5v6h-5zM1496 956h21v6h-21zM971 962h6v5h-6zM1333 962h6v5h-6zM1375 962h6v5h-6zM1386 962h21v5h-21zM1470 962h5v5h-5zM1496 962h16v5h-16zM971 967h6v6h-6zM1333 967h6v6h-6zM1470 967h5v6h-5zM1496 967h11v6h-11zM971 973h6v5h-6zM1333 973h6v5h-6zM1381 973h31v5h-31zM1496 973h11v5h-11zM956 978h21v6h-21zM1013 978h27v6h-27zM1192 978h5v6h-5zM1286 978h21v6h-21zM1360 978h63v6h-63zM1491 978h26v6h-26zM950 984h6v6h-6zM966 984h11v6h-11zM1013 984h27v6h-27zM1255 984h10v6h-10zM1286 984h21v6h-21zM1354 984h37v6h-37zM1402 984h21v6h-21zM1459 984h11v6h-11zM1475 984h11v6h-11zM1491 984h26v6h-26zM950 990h6v5h-6zM966 990h5v5h-5zM1013 990h27v5h-27zM1255 990h10v5h-10zM1297 990h26v5h-26zM1328 990h16v5h-16zM1360 990h31v5h-31zM1402 990h10v5h-10zM1417 990h6v5h-6zM1491 990h26v5h-26zM950 995h6v6h-6zM966 995h5v6h-5zM982 995h58v6h-58zM1255 995h10v6h-10zM1307 995h42v6h-42zM1365 995h58v6h-58zM1486 995h36v6h-36zM950 1001h16v5h-16zM982 1001h16v5h-16zM1003 1001h37v5h-37zM1302 1001h52v5h-52zM1386 1001h31v5h-31zM1423 1001h5v5h-5zM1491 1001h26v5h-26zM945 1006h21v6h-21zM982 1006h16v6h-16zM1008 1006h5v6h-5zM1034 1006h11v6h-11zM1176 1006h21v6h-21zM1297 1006h63v6h-63zM1391 1006h16v6h-16zM1491 1006h16v6h-16zM1522 1006h6v6h-6zM956 1012h10v6h-10zM982 1012h5v6h-5zM992 1012h6v6h-6zM1008 1012h5v6h-5zM1024 1012h26v6h-26zM1176 1012h21v6h-21zM1260 1012h5v6h-5zM1297 1012h63v6h-63zM1501 1012h6v6h-6zM1517 1012h5v6h-5zM956 1018h10v5h-10zM982 1018h5v5h-5zM992 1018h11v5h-11zM1008 1018h58v5h-58zM1176 1018h42v5h-42zM1249 1018h6v5h-6zM1286 1018h16v5h-16zM1307 1018h42v5h-42zM1365 1018h16v5h-16zM1407 1018h21v5h-21zM1475 1018h32v5h-32zM961 1023h105v6h-105zM1197 1023h31v6h-31zM1234 1023h21v6h-21zM1286 1023h21v6h-21zM1328 1023h11v6h-11zM1365 1023h16v6h-16zM1407 1023h21v6h-21zM1470 1023h21v6h-21zM961 1029h58v5h-58zM1029 1029h37v5h-37zM1103 1029h5v5h-5zM1192 1029h36v5h-36zM1234 1029h31v5h-31zM1281 1029h52v5h-52zM1365 1029h5v5h-5zM1396 1029h32v5h-32zM1470 1029h5v5h-5zM961 1034h10v6h-10zM987 1034h21v6h-21zM1024 1034h42v6h-42zM1103 1034h10v6h-10zM1187 1034h89v6h-89zM1286 1034h53v6h-53zM1360 1034h10v6h-10zM1465 1034h5v6h-5zM961 1040h47v6h-47zM1024 1040h42v6h-42zM1103 1040h15v6h-15zM1176 1040h89v6h-89zM1302 1040h47v6h-47zM1360 1040h10v6h-10zM1454 1040h11v6h-11zM966 1046h42v5h-42zM1013 1046h11v5h-11zM1034 1046h42v5h-42zM1103 1046h21v5h-21zM1176 1046h115v5h-115zM1360 1046h10v5h-10zM1433 1046h16v5h-16zM956 1051h5v6h-5zM966 1051h58v6h-58zM1034 1051h32v6h-32zM1103 1051h31v6h-31zM1166 1051h125v6h-125zM1360 1051h15v6h-15zM1417 1051h6v6h-6zM956 1057h5v5h-5zM966 1057h79v5h-79zM1050 1057h16v5h-16zM1103 1057h204v5h-204zM1375 1057h6v5h-6zM1412 1057h5v5h-5zM961 1062h52v6h-52zM1029 1062h32v6h-32zM1108 1062h220v6h-220zM1375 1062h6v6h-6zM961 1068h16v6h-16zM998 1068h15v6h-15zM1029 1068h32v6h-32zM1134 1068h189v6h-189zM1370 1068h21v6h-21zM956 1074h21v5h-21zM998 1074h42v5h-42zM1045 1074h16v5h-16zM1113 1074h11v5h-11zM1134 1074h173v5h-173zM956 1079h21v6h-21zM1008 1079h16v6h-16zM1029 1079h11v6h-11zM1045 1079h5v6h-5zM1055 1079h6v6h-6zM1071 1079h5v6h-5zM1113 1079h11v6h-11zM1139 1079h158v6h-158zM956 1085h15v5h-15zM992 1085h6v5h-6zM1008 1085h16v5h-16zM1029 1085h21v5h-21zM1055 1085h21v5h-21zM1124 1085h10v5h-10zM1145 1085h120v5h-120zM956 1090h15v6h-15zM992 1090h6v6h-6zM1019 1090h63v6h-63zM1124 1090h10v6h-10zM1145 1090h115v6h-115zM956 1096h15v6h-15zM992 1096h16v6h-16zM1019 1096h10v6h-10zM1034 1096h63v6h-63zM1124 1096h10v6h-10zM1145 1096h104v6h-104zM950 1102h11v5h-11zM971 1102h37v5h-37zM1019 1102h84v5h-84zM1145 1102h94v5h-94zM950 1107h11v6h-11zM971 1107h6v6h-6zM982 1107h10v6h-10zM1019 1107h89v6h-89zM1145 1107h78v6h-78zM945 1113h32v5h-32zM982 1113h10v5h-10zM1019 1113h26v5h-26zM1050 1113h63v5h-63zM1145 1113h73v5h-73zM945 1118h47v6h-47zM1008 1118h5v6h-5zM1034 1118h6v6h-6zM1055 1118h58v6h-58zM1134 1118h79v6h-79zM945 1124h58v6h-58zM1008 1124h5v6h-5zM1082 1124h31v6h-31zM1139 1124h74v6h-74zM950 1130h37v5h-37zM998 1130h15v5h-15zM1082 1130h31v5h-31zM1139 1130h74v5h-74zM945 1135h42v6h-42zM998 1135h26v6h-26zM1087 1135h26v6h-26zM1139 1135h37v6h-37zM1187 1135h36v6h-36zM940 1141h21v5h-21zM987 1141h5v5h-5zM1092 1141h26v5h-26zM1134 1141h42v5h-42zM1187 1141h41v5h-41zM935 1146h10v6h-10zM987 1146h5v6h-5zM1024 1146h5v6h-5zM1097 1146h131v6h-131zM935 1152h10v6h-10zM987 1152h5v6h-5zM1024 1152h5v6h-5zM1103 1152h125v6h-125zM929 1158h11v5h-11zM945 1158h11v5h-11zM1108 1158h120v5h-120zM935 1163h26v6h-26zM998 1163h10v6h-10zM1113 1163h110v6h-110zM935 1169h31v5h-31zM998 1169h10v5h-10zM1118 1169h95v5h-95zM924 1174h63v6h-63zM992 1174h6v6h-6zM1124 1174h78v6h-78zM924 1180h5v6h-5zM935 1180h63v6h-63zM1129 1180h68v6h-68zM935 1186h15v5h-15zM961 1186h16v5h-16zM1134 1186h37v5h-37zM924 1191h11v6h-11zM940 1191h10v6h-10zM971 1191h6v6h-6zM1145 1191h15v6h-15zM924 1197h11v5h-11zM940 1197h10v5h-10zM1145 1197h15v5h-15zM924 1202h26v6h-26zM961 1202h5v6h-5zM924 1208h21v6h-21zM956 1208h5v6h-5zM966 1208h5v6h-5zM924 1214h11v5h-11zM966 1214h5v5h-5zM924 1219h11v6h-11zM966 1219h5v6h-5zM929 1225h6v5h-6zM961 1225h10v5h-10zM924 1230h11v6h-11zM966 1230h5v6h-5zM971 1309h6v5h-6zM971 1314h6v6h-6zM971 1320h6v6h-6zM956 1337h5v5h-5z"/>
<path fill="#ffffbf" d="M898 250h10v6h-10zM935 250h10v6h-10zM940 262h21v5h-21zM956 267h5v6h-5zM966 267h5v6h-5zM950 273h21v5h-21zM840 413h5v5h-5zM840 418h5v6h-5zM835 424h10v6h-10zM830 435h5v6h-5zM830 441h10v5h-10zM504 525h6v5h-6zM1218 525h21v5h-21zM1213 530h21v6h-21zM1166 536h68v6h-68zM1155 542h79v5h-79zM1318 542h10v5h-10zM1339 542h10v5h-10zM1150 547h89v6h-89zM1286 547h42v6h-42zM1339 547h10v6h-10zM1134 553h157v5h-157zM1323 553h10v5h-10zM1344 553h26v5h-26zM1113 558h47v6h-47zM1181 558h79v6h-79zM1328 558h11v6h-11zM1349 558h37v6h-37zM1407 558h5v6h-5zM1108 564h37v6h-37zM1181 564h58v6h-58zM1328 564h11v6h-11zM1349 564h26v6h-26zM1417 564h21v6h-21zM1108 570h5v5h-5zM1202 570h26v5h-26zM1297 570h5v5h-5zM1312 570h11v5h-11zM1417 570h27v5h-27zM1097 575h16v6h-16zM1265 575h5v6h-5zM1438 575h6v6h-6zM1092 581h21v5h-21zM1249 581h11v5h-11zM1444 581h5v5h-5zM1092 586h21v6h-21zM1249 586h11v6h-11zM1444 586h10v6h-10zM1087 592h5v6h-5zM1103 592h10v6h-10zM1444 592h42v6h-42zM1045 598h110v5h-110zM1465 598h21v5h-21zM1045 603h105v6h-105zM1486 603h26v6h-26zM1008 609h26v5h-26zM1040 609h31v5h-31zM1087 609h73v5h-73zM1260 609h5v5h-5zM1486 609h26v5h-26zM1008 614h42v6h-42zM1066 614h5v6h-5zM1087 614h5v6h-5zM1108 614h21v6h-21zM1139 614h27v6h-27zM1213 614h5v6h-5zM1255 614h5v6h-5zM1454 614h5v6h-5zM1491 614h21v6h-21zM704 620h16v6h-16zM961 620h10v6h-10zM1008 620h42v6h-42zM1066 620h26v6h-26zM1103 620h31v6h-31zM1139 620h32v6h-32zM1496 620h16v6h-16zM720 626h21v5h-21zM961 626h10v5h-10zM1008 626h5v5h-5zM1024 626h26v5h-26zM1061 626h36v5h-36zM1103 626h31v5h-31zM1139 626h21v5h-21zM1166 626h10v5h-10zM1396 626h16v5h-16zM1465 626h5v5h-5zM1517 626h32v5h-32zM720 631h21v6h-21zM1024 631h136v6h-136zM1166 631h15v6h-15zM1396 631h16v6h-16zM1423 631h5v6h-5zM1501 631h48v6h-48zM987 637h11v5h-11zM1024 637h126v5h-126zM1176 637h11v5h-11zM1339 637h21v5h-21zM1391 637h142v5h-142zM1543 637h6v5h-6zM709 642h21v6h-21zM950 642h158v6h-158zM1113 642h74v6h-74zM1333 642h27v6h-27zM1391 642h32v6h-32zM1428 642h105v6h-105zM1543 642h6v6h-6zM709 648h21v6h-21zM950 648h58v6h-58zM1034 648h21v6h-21zM1066 648h42v6h-42zM1118 648h32v6h-32zM1160 648h21v6h-21zM1333 648h32v6h-32zM1386 648h142v6h-142zM1549 648h5v6h-5zM882 654h32v5h-32zM940 654h52v5h-52zM1040 654h15v5h-15zM1066 654h42v5h-42zM1124 654h5v5h-5zM1145 654h5v5h-5zM1160 654h16v5h-16zM1213 654h10v5h-10zM1323 654h42v5h-42zM1381 654h57v5h-57zM1454 654h79v5h-79zM882 659h84v6h-84zM1045 659h10v6h-10zM1066 659h42v6h-42zM1145 659h5v6h-5zM1160 659h11v6h-11zM1312 659h126v6h-126zM1454 659h79v6h-79zM866 665h79v5h-79zM1045 665h42v5h-42zM1202 665h5v5h-5zM1307 665h100v5h-100zM1423 665h15v5h-15zM1486 665h21v5h-21zM1533 665h5v5h-5zM746 670h26v6h-26zM851 670h47v6h-47zM914 670h31v6h-31zM1040 670h36v6h-36zM1244 670h32v6h-32zM1302 670h31v6h-31zM1339 670h68v6h-68zM1423 670h15v6h-15zM1454 670h26v6h-26zM1538 670h16v6h-16zM746 676h26v6h-26zM803 676h6v6h-6zM845 676h53v6h-53zM914 676h15v6h-15zM1045 676h21v6h-21zM1234 676h52v6h-52zM1302 676h16v6h-16zM1333 676h11v6h-11zM1349 676h53v6h-53zM1423 676h15v6h-15zM1454 676h21v6h-21zM1538 676h16v6h-16zM835 682h63v5h-63zM919 682h21v5h-21zM1228 682h90v5h-90zM1333 682h105v5h-105zM1454 682h16v5h-16zM1528 682h15v5h-15zM835 687h31v6h-31zM919 687h21v6h-21zM1124 687h15v6h-15zM1228 687h90v6h-90zM1344 687h94v6h-94zM1454 687h5v6h-5zM1517 687h32v6h-32zM835 693h10v5h-10zM877 693h5v5h-5zM908 693h6v5h-6zM1124 693h15v5h-15zM1228 693h95v5h-95zM1344 693h105v5h-105zM1475 693h16v5h-16zM1517 693h37v5h-37zM761 698h6v6h-6zM835 698h5v6h-5zM893 698h5v6h-5zM1061 698h10v6h-10zM1228 698h126v6h-126zM1365 698h73v6h-73zM1470 698h84v6h-84zM761 704h6v6h-6zM835 704h5v6h-5zM893 704h5v6h-5zM1061 704h10v6h-10zM1228 704h69v6h-69zM1302 704h21v6h-21zM1349 704h5v6h-5zM1365 704h16v6h-16zM1386 704h26v6h-26zM1417 704h11v6h-11zM1459 704h84v6h-84zM835 710h5v5h-5zM872 710h15v5h-15zM1108 710h10v5h-10zM1223 710h68v5h-68zM1307 710h16v5h-16zM1349 710h5v5h-5zM1365 710h16v5h-16zM1386 710h26v5h-26zM1417 710h11v5h-11zM1459 710h79v5h-79zM782 715h6v6h-6zM840 715h5v6h-5zM1181 715h11v6h-11zM1202 715h11v6h-11zM1218 715h73v6h-73zM1312 715h21v6h-21zM1344 715h10v6h-10zM1365 715h58v6h-58zM1449 715h84v6h-84zM1150 721h42v5h-42zM1202 721h89v5h-89zM1318 721h15v5h-15zM1344 721h26v5h-26zM1391 721h5v5h-5zM1407 721h21v5h-21zM1449 721h73v5h-73zM788 726h15v6h-15zM851 726h5v6h-5zM1155 726h37v6h-37zM1202 726h89v6h-89zM1318 726h15v6h-15zM1349 726h16v6h-16zM1386 726h52v6h-52zM1449 726h73v6h-73zM1538 726h5v6h-5zM782 732h21v6h-21zM1160 732h32v6h-32zM1202 732h95v6h-95zM1323 732h16v6h-16zM1349 732h11v6h-11zM1381 732h63v6h-63zM1449 732h100v6h-100zM782 738h21v5h-21zM1160 738h137v5h-137zM1333 738h21v5h-21zM1381 738h63v5h-63zM1475 738h37v5h-37zM1538 738h11v5h-11zM788 743h15v6h-15zM1097 743h6v6h-6zM1166 743h131v6h-131zM1333 743h21v6h-21zM1381 743h68v6h-68zM1459 743h6v6h-6zM1475 743h42v6h-42zM1543 743h6v6h-6zM793 749h10v5h-10zM1092 749h21v5h-21zM1166 749h131v5h-131zM1333 749h21v5h-21zM1386 749h26v5h-26zM1433 749h16v5h-16zM1475 749h42v5h-42zM798 754h5v6h-5zM1087 754h31v6h-31zM1171 754h168v6h-168zM1370 754h5v6h-5zM1449 754h63v6h-63zM798 760h5v6h-5zM882 760h5v6h-5zM1034 760h11v6h-11zM1076 760h48v6h-48zM1171 760h26v6h-26zM1202 760h116v6h-116zM1370 760h5v6h-5zM1465 760h57v6h-57zM887 766h11v5h-11zM1029 766h16v5h-16zM1066 766h63v5h-63zM1176 766h142v5h-142zM1391 766h5v5h-5zM1475 766h32v5h-32zM1512 766h16v5h-16zM898 771h10v6h-10zM982 771h16v6h-16zM1024 771h16v6h-16zM1045 771h94v6h-94zM1176 771h147v6h-147zM1381 771h21v6h-21zM1480 771h42v6h-42zM1528 771h10v6h-10zM898 777h21v5h-21zM971 777h27v5h-27zM1019 777h21v5h-21zM1045 777h110v5h-110zM1176 777h168v5h-168zM1386 777h21v5h-21zM1428 777h10v5h-10zM1480 777h53v5h-53zM819 782h5v6h-5zM908 782h21v6h-21zM977 782h26v6h-26zM1008 782h158v6h-158zM1181 782h163v6h-163zM1391 782h21v6h-21zM1428 782h10v6h-10zM1475 782h53v6h-53zM809 788h15v6h-15zM914 788h21v6h-21zM982 788h73v6h-73zM1061 788h283v6h-283zM1391 788h26v6h-26zM1449 788h5v6h-5zM1470 788h16v6h-16zM1491 788h37v6h-37zM809 794h15v5h-15zM919 794h31v5h-31zM971 794h84v5h-84zM1066 794h278v5h-278zM1391 794h32v5h-32zM1465 794h63v5h-63zM929 799h21v6h-21zM966 799h5v6h-5zM982 799h79v6h-79zM1071 799h278v6h-278zM1391 799h32v6h-32zM1454 799h74v6h-74zM940 805h10v5h-10zM966 805h5v5h-5zM992 805h6v5h-6zM1003 805h346v5h-346zM1386 805h42v5h-42zM1444 805h84v5h-84zM814 810h10v6h-10zM966 810h16v6h-16zM992 810h6v6h-6zM1003 810h10v6h-10zM1024 810h210v6h-210zM1239 810h105v6h-105zM1354 810h6v6h-6zM1381 810h47v6h-47zM1444 810h84v6h-84zM814 816h10v6h-10zM977 816h5v6h-5zM992 816h21v6h-21zM1024 816h10v6h-10zM1045 816h16v6h-16zM1071 816h262v6h-262zM1365 816h52v6h-52zM1444 816h57v6h-57zM1507 816h21v6h-21zM814 822h5v5h-5zM861 822h5v5h-5zM982 822h79v5h-79zM1071 822h157v5h-157zM1234 822h21v5h-21zM1270 822h58v5h-58zM1391 822h5v5h-5zM1407 822h10v5h-10zM1444 822h15v5h-15zM1465 822h10v5h-10zM1480 822h21v5h-21zM1507 822h26v5h-26zM861 827h21v6h-21zM987 827h247v6h-247zM1281 827h47v6h-47zM1360 827h5v6h-5zM1375 827h11v6h-11zM1391 827h5v6h-5zM1407 827h10v6h-10zM1444 827h52v6h-52zM1507 827h31v6h-31zM861 833h5v5h-5zM992 833h37v5h-37zM1050 833h131v5h-131zM1192 833h42v5h-42zM1286 833h42v5h-42zM1333 833h11v5h-11zM1349 833h5v5h-5zM1360 833h5v5h-5zM1375 833h11v5h-11zM1391 833h5v5h-5zM1407 833h21v5h-21zM1444 833h52v5h-52zM1507 833h31v5h-31zM908 838h6v6h-6zM992 838h37v6h-37zM1050 838h116v6h-116zM1192 838h31v6h-31zM1302 838h42v6h-42zM1349 838h16v6h-16zM1375 838h11v6h-11zM1391 838h5v6h-5zM1407 838h21v6h-21zM1444 838h52v6h-52zM1507 838h26v6h-26zM824 844h16v6h-16zM998 844h42v6h-42zM1050 844h21v6h-21zM1082 844h84v6h-84zM1181 844h32v6h-32zM1307 844h37v6h-37zM1349 844h16v6h-16zM1375 844h11v6h-11zM1391 844h37v6h-37zM1444 844h89v6h-89zM824 850h16v5h-16zM845 850h11v5h-11zM1013 850h58v5h-58zM1082 850h47v5h-47zM1139 850h95v5h-95zM1270 850h11v5h-11zM1302 850h42v5h-42zM1349 850h21v5h-21zM1391 850h37v5h-37zM1433 850h32v5h-32zM1512 850h10v5h-10zM851 855h5v6h-5zM945 855h11v6h-11zM1013 855h58v6h-58zM1082 855h47v6h-47zM1139 855h100v6h-100zM1270 855h11v6h-11zM1297 855h15v6h-15zM1318 855h57v6h-57zM1386 855h10v6h-10zM1402 855h73v6h-73zM1486 855h36v6h-36zM1013 861h126v5h-126zM1166 861h57v5h-57zM1297 861h194v5h-194zM1528 861h10v5h-10zM940 866h26v6h-26zM1019 866h78v6h-78zM1103 866h36v6h-36zM1166 866h15v6h-15zM1202 866h16v6h-16zM1255 866h10v6h-10zM1302 866h47v6h-47zM1360 866h131v6h-131zM1528 866h5v6h-5zM861 872h21v6h-21zM940 872h31v6h-31zM1024 872h73v6h-73zM1103 872h36v6h-36zM1166 872h15v6h-15zM1202 872h16v6h-16zM1228 872h6v6h-6zM1244 872h5v6h-5zM1255 872h10v6h-10zM1297 872h57v6h-57zM1365 872h110v6h-110zM1491 872h5v6h-5zM1507 872h5v6h-5zM856 878h26v5h-26zM893 878h5v5h-5zM961 878h5v5h-5zM1029 878h152v5h-152zM1202 878h21v5h-21zM1228 878h6v5h-6zM1239 878h16v5h-16zM1291 878h63v5h-63zM1365 878h110v5h-110zM1491 878h5v5h-5zM1507 878h5v5h-5zM893 883h5v6h-5zM1034 883h221v6h-221zM1291 883h69v6h-69zM1370 883h142v6h-142zM950 889h16v5h-16zM1040 889h141v5h-141zM1187 889h15v5h-15zM1207 889h48v5h-48zM1286 889h42v5h-42zM1333 889h27v5h-27zM1375 889h84v5h-84zM1475 889h37v5h-37zM914 894h5v6h-5zM924 894h5v6h-5zM950 894h27v6h-27zM1050 894h79v6h-79zM1145 894h36v6h-36zM1187 894h62v6h-62zM1281 894h47v6h-47zM1333 894h174v6h-174zM924 900h11v6h-11zM950 900h42v6h-42zM1061 900h10v6h-10zM1103 900h26v6h-26zM1145 900h36v6h-36zM1202 900h42v6h-42zM1270 900h63v6h-63zM1344 900h136v6h-136zM1496 900h5v6h-5zM924 906h5v5h-5zM950 906h58v5h-58zM1066 906h5v5h-5zM1103 906h78v5h-78zM1207 906h37v5h-37zM1265 906h68v5h-68zM1344 906h58v5h-58zM1417 906h84v5h-84zM924 911h5v6h-5zM1034 911h6v6h-6zM1103 911h78v6h-78zM1207 911h137v6h-137zM1349 911h95v6h-95zM1454 911h47v6h-47zM945 917h5v5h-5zM1013 917h6v5h-6zM1103 917h47v5h-47zM1155 917h26v5h-26zM1202 917h242v5h-242zM1454 917h5v5h-5zM1475 917h26v5h-26zM945 922h32v6h-32zM1008 922h5v6h-5zM1045 922h5v6h-5zM1076 922h32v6h-32zM1124 922h26v6h-26zM1155 922h26v6h-26zM1197 922h262v6h-262zM1475 922h26v6h-26zM950 928h21v6h-21zM1019 928h36v6h-36zM1076 928h32v6h-32zM1124 928h36v6h-36zM1176 928h63v6h-63zM1260 928h94v6h-94zM1360 928h141v6h-141zM950 934h21v5h-21zM1019 934h42v5h-42zM1066 934h42v5h-42zM1124 934h36v5h-36zM1176 934h68v5h-68zM1265 934h89v5h-89zM1360 934h115v5h-115zM1480 934h21v5h-21zM950 939h16v6h-16zM1019 939h89v6h-89zM1124 939h89v6h-89zM1223 939h26v6h-26zM1265 939h89v6h-89zM1360 939h115v6h-115zM1491 939h5v6h-5zM950 945h16v5h-16zM1003 945h5v5h-5zM1019 945h110v5h-110zM1145 945h68v5h-68zM1228 945h27v5h-27zM1265 945h89v5h-89zM1360 945h57v5h-57zM1438 945h32v5h-32zM1475 945h5v5h-5zM1491 945h5v5h-5zM956 950h15v6h-15zM998 950h47v6h-47zM1066 950h63v6h-63zM1145 950h62v6h-62zM1228 950h27v6h-27zM1265 950h89v6h-89zM1360 950h68v6h-68zM1438 950h6v6h-6zM1449 950h21v6h-21zM1475 950h16v6h-16zM956 956h15v6h-15zM998 956h26v6h-26zM1034 956h11v6h-11zM1066 956h194v6h-194zM1265 956h110v6h-110zM1381 956h5v6h-5zM1407 956h37v6h-37zM1449 956h21v6h-21zM1475 956h16v6h-16zM956 962h15v5h-15zM998 962h26v5h-26zM1034 962h11v5h-11zM1066 962h267v5h-267zM1339 962h36v5h-36zM1381 962h5v5h-5zM1407 962h26v5h-26zM1444 962h26v5h-26zM1475 962h21v5h-21zM956 967h15v6h-15zM998 967h26v6h-26zM1034 967h11v6h-11zM1066 967h267v6h-267zM1339 967h94v6h-94zM1444 967h26v6h-26zM1475 967h21v6h-21zM956 973h15v5h-15zM998 973h47v5h-47zM1066 973h267v5h-267zM1339 973h42v5h-42zM1412 973h84v5h-84zM1040 978h152v6h-152zM1197 978h5v6h-5zM1218 978h68v6h-68zM1307 978h53v6h-53zM1423 978h10v6h-10zM1444 978h47v6h-47zM956 984h10v6h-10zM1040 984h73v6h-73zM1118 984h79v6h-79zM1218 984h21v6h-21zM1244 984h11v6h-11zM1265 984h21v6h-21zM1307 984h47v6h-47zM1391 984h11v6h-11zM1423 984h36v6h-36zM1470 984h5v6h-5zM1486 984h5v6h-5zM956 990h10v5h-10zM971 990h11v5h-11zM1040 990h167v5h-167zM1223 990h32v5h-32zM1265 990h32v5h-32zM1323 990h5v5h-5zM1344 990h16v5h-16zM1391 990h11v5h-11zM1412 990h5v5h-5zM1423 990h68v5h-68zM956 995h10v6h-10zM971 995h11v6h-11zM1040 995h167v6h-167zM1223 995h32v6h-32zM1265 995h42v6h-42zM1349 995h16v6h-16zM1423 995h5v6h-5zM1438 995h48v6h-48zM966 1001h16v5h-16zM1040 1001h167v5h-167zM1223 1001h79v5h-79zM1354 1001h32v5h-32zM1417 1001h6v5h-6zM1428 1001h63v5h-63zM966 1006h5v6h-5zM977 1006h5v6h-5zM1013 1006h11v6h-11zM1045 1006h131v6h-131zM1197 1006h100v6h-100zM1360 1006h31v6h-31zM1407 1006h26v6h-26zM1438 1006h6v6h-6zM1449 1006h16v6h-16zM1470 1006h21v6h-21zM966 1012h5v6h-5zM977 1012h5v6h-5zM987 1012h5v6h-5zM1013 1012h11v6h-11zM1050 1012h126v6h-126zM1197 1012h63v6h-63zM1265 1012h32v6h-32zM1360 1012h68v6h-68zM1433 1012h11v6h-11zM1449 1012h52v6h-52zM966 1018h16v5h-16zM987 1018h5v5h-5zM1066 1018h110v5h-110zM1218 1018h31v5h-31zM1255 1018h31v5h-31zM1302 1018h5v5h-5zM1349 1018h16v5h-16zM1381 1018h26v5h-26zM1428 1018h47v5h-47zM1066 1023h131v6h-131zM1255 1023h31v6h-31zM1307 1023h21v6h-21zM1339 1023h26v6h-26zM1381 1023h26v6h-26zM1428 1023h16v6h-16zM1459 1023h11v6h-11zM1066 1029h37v5h-37zM1108 1029h84v5h-84zM1265 1029h16v5h-16zM1333 1029h32v5h-32zM1370 1029h26v5h-26zM1428 1029h42v5h-42zM1008 1034h16v6h-16zM1066 1034h37v6h-37zM1113 1034h74v6h-74zM1276 1034h10v6h-10zM1339 1034h21v6h-21zM1370 1034h21v6h-21zM1396 1034h27v6h-27zM1444 1034h21v6h-21zM1008 1040h16v6h-16zM1066 1040h37v6h-37zM1118 1040h58v6h-58zM1265 1040h37v6h-37zM1349 1040h11v6h-11zM1370 1040h32v6h-32zM1412 1040h11v6h-11zM1438 1040h11v6h-11zM961 1046h5v5h-5zM1076 1046h27v5h-27zM1124 1046h52v5h-52zM1291 1046h69v5h-69zM1370 1046h11v5h-11zM1396 1046h11v5h-11zM1428 1046h5v5h-5zM961 1051h5v6h-5zM1066 1051h37v6h-37zM1134 1051h32v6h-32zM1291 1051h69v6h-69zM1391 1051h5v6h-5zM1402 1051h5v6h-5zM961 1057h5v5h-5zM1066 1057h37v5h-37zM1307 1057h68v5h-68zM1013 1062h16v6h-16zM1061 1062h47v6h-47zM1344 1062h31v6h-31zM1013 1068h16v6h-16zM1061 1068h73v6h-73zM1061 1074h52v5h-52zM1124 1074h10v5h-10zM998 1079h10v6h-10zM1024 1079h5v6h-5zM1061 1079h10v6h-10zM1076 1079h37v6h-37zM1124 1079h15v6h-15zM998 1085h10v5h-10zM1024 1085h5v5h-5zM1076 1085h48v5h-48zM1134 1085h11v5h-11zM998 1090h15v6h-15zM1082 1090h42v6h-42zM1134 1090h11v6h-11zM1008 1096h11v6h-11zM1097 1096h27v6h-27zM1134 1096h11v6h-11zM1008 1102h11v5h-11zM1103 1102h42v5h-42zM992 1107h27v6h-27zM1108 1107h37v6h-37zM992 1113h6v5h-6zM1003 1113h16v5h-16zM1113 1113h32v5h-32zM992 1118h6v6h-6zM1013 1118h11v6h-11zM1113 1118h21v6h-21zM1013 1124h6v6h-6zM1113 1124h26v6h-26zM1013 1130h6v5h-6zM1113 1130h26v5h-26zM1113 1135h26v6h-26zM1176 1135h11v6h-11zM961 1141h16v5h-16zM1118 1141h16v5h-16zM1176 1141h11v5h-11zM956 1146h21v6h-21zM945 1152h42v6h-42zM956 1158h10v5h-10zM929 1163h6v6h-6zM961 1163h5v6h-5zM977 1169h10v5h-10zM987 1174h5v6h-5zM924 1186h5v5h-5zM950 1186h11v5h-11zM935 1191h5v6h-5zM950 1191h6v6h-6zM935 1197h5v5h-5zM950 1197h11v5h-11zM950 1202h11v6h-11zM982 1214h5v5h-5zM956 1219h5v6h-5zM982 1219h5v6h-5zM982 1225h5v5h-5zM956 1247h10v6h-10zM956 1253h10v5h-10z"/>
<path fill="#fdae61" d="M908 250h6v6h-6zM940 256h5v6h-5zM940 267h10v6h-10zM961 267h5v6h-5zM940 273h10v5h-10zM950 284h11v6h-11zM835 430h5v5h-5zM835 435h5v6h-5zM1291 553h16v5h-16zM1333 553h11v5h-11zM1160 558h21v6h-21zM1260 558h42v6h-42zM1307 558h21v6h-21zM1339 558h10v6h-10zM1386 558h21v6h-21zM1145 564h36v6h-36zM1239 564h89v6h-89zM1339 564h10v6h-10zM1375 564h11v6h-11zM1391 564h21v6h-21zM1113 570h89v5h-89zM1228 570h16v5h-16zM1255 570h42v5h-42zM1302 570h10v5h-10zM1323 570h58v5h-58zM1396 570h21v5h-21zM1113 575h32v6h-32zM1150 575h115v6h-115zM1270 575h6v6h-6zM1286 575h121v6h-121zM1417 575h6v6h-6zM1113 581h16v5h-16zM1134 581h42v5h-42zM1181 581h68v5h-68zM1260 581h63v5h-63zM1328 581h11v5h-11zM1349 581h47v5h-47zM1417 581h11v5h-11zM1433 581h5v5h-5zM1113 586h11v6h-11zM1139 586h6v6h-6zM1150 586h5v6h-5zM1160 586h6v6h-6zM1181 586h16v6h-16zM1202 586h47v6h-47zM1260 586h21v6h-21zM1286 586h11v6h-11zM1307 586h32v6h-32zM1349 586h53v6h-53zM1412 586h32v6h-32zM1092 592h11v6h-11zM1113 592h11v6h-11zM1129 592h16v6h-16zM1155 592h32v6h-32zM1192 592h84v6h-84zM1307 592h5v6h-5zM1318 592h15v6h-15zM1339 592h21v6h-21zM1365 592h5v6h-5zM1375 592h48v6h-48zM1428 592h16v6h-16zM1155 598h42v5h-42zM1207 598h6v5h-6zM1223 598h42v5h-42zM1297 598h31v5h-31zM1333 598h32v5h-32zM1370 598h37v5h-37zM1412 598h5v5h-5zM1428 598h37v5h-37zM1150 603h52v6h-52zM1228 603h11v6h-11zM1244 603h11v6h-11zM1260 603h5v6h-5zM1276 603h31v6h-31zM1318 603h31v6h-31zM1360 603h63v6h-63zM1438 603h48v6h-48zM1160 609h32v5h-32zM1228 609h11v5h-11zM1276 609h5v5h-5zM1307 609h5v5h-5zM1323 609h26v5h-26zM1360 609h68v5h-68zM1444 609h42v5h-42zM1092 614h16v6h-16zM1129 614h10v6h-10zM1166 614h26v6h-26zM1218 614h5v6h-5zM1270 614h16v6h-16zM1297 614h47v6h-47zM1360 614h5v6h-5zM1370 614h11v6h-11zM1386 614h5v6h-5zM1402 614h21v6h-21zM1438 614h16v6h-16zM1459 614h32v6h-32zM1092 620h11v6h-11zM1134 620h5v6h-5zM1171 620h21v6h-21zM1197 620h16v6h-16zM1223 620h16v6h-16zM1255 620h5v6h-5zM1270 620h16v6h-16zM1297 620h52v6h-52zM1360 620h10v6h-10zM1381 620h5v6h-5zM1396 620h27v6h-27zM1433 620h63v6h-63zM1512 620h5v6h-5zM1559 620h5v6h-5zM704 626h16v5h-16zM1097 626h6v5h-6zM1134 626h5v5h-5zM1160 626h6v5h-6zM1176 626h52v5h-52zM1234 626h10v5h-10zM1255 626h68v5h-68zM1328 626h11v5h-11zM1344 626h5v5h-5zM1365 626h16v5h-16zM1412 626h5v5h-5zM1423 626h42v5h-42zM1470 626h47v5h-47zM1160 631h6v6h-6zM1181 631h32v6h-32zM1218 631h68v6h-68zM1291 631h11v6h-11zM1312 631h27v6h-27zM1344 631h16v6h-16zM1365 631h31v6h-31zM1412 631h11v6h-11zM1428 631h73v6h-73zM709 637h5v5h-5zM730 637h5v5h-5zM1150 637h26v5h-26zM1187 637h10v5h-10zM1213 637h84v5h-84zM1312 637h27v5h-27zM1360 637h31v5h-31zM1533 637h10v5h-10zM1108 642h5v6h-5zM1187 642h5v6h-5zM1202 642h100v6h-100zM1307 642h26v6h-26zM1360 642h10v6h-10zM1375 642h16v6h-16zM1533 642h10v6h-10zM735 648h11v6h-11zM1008 648h26v6h-26zM1108 648h10v6h-10zM1150 648h10v6h-10zM1181 648h110v6h-110zM1297 648h36v6h-36zM1365 648h10v6h-10zM1381 648h5v6h-5zM735 654h6v5h-6zM992 654h48v5h-48zM1108 654h16v5h-16zM1129 654h16v5h-16zM1150 654h10v5h-10zM1176 654h37v5h-37zM1223 654h63v5h-63zM1297 654h26v5h-26zM1365 654h10v5h-10zM1438 654h16v5h-16zM966 659h79v6h-79zM1108 659h37v6h-37zM1150 659h10v6h-10zM1171 659h115v6h-115zM1297 659h15v6h-15zM1438 659h16v6h-16zM945 665h74v5h-74zM1024 665h21v5h-21zM1087 665h115v5h-115zM1207 665h100v5h-100zM1407 665h16v5h-16zM1438 665h48v5h-48zM898 670h16v6h-16zM945 670h68v6h-68zM1019 670h21v6h-21zM1076 670h168v6h-168zM1281 670h10v6h-10zM1407 670h16v6h-16zM1438 670h16v6h-16zM898 676h16v6h-16zM929 676h95v6h-95zM1029 676h16v6h-16zM1066 676h168v6h-168zM1286 676h5v6h-5zM1297 676h5v6h-5zM1318 676h15v6h-15zM1407 676h16v6h-16zM1438 676h16v6h-16zM751 682h21v5h-21zM898 682h21v5h-21zM940 682h288v5h-288zM1318 682h15v5h-15zM1438 682h16v5h-16zM751 687h21v6h-21zM866 687h53v6h-53zM940 687h184v6h-184zM1139 687h89v6h-89zM1318 687h26v6h-26zM1438 687h16v6h-16zM751 693h21v5h-21zM845 693h32v5h-32zM882 693h26v5h-26zM914 693h110v5h-110zM1029 693h95v5h-95zM1139 693h89v5h-89zM1323 693h21v5h-21zM756 698h5v6h-5zM767 698h5v6h-5zM840 698h53v6h-53zM898 698h163v6h-163zM1071 698h157v6h-157zM1354 698h11v6h-11zM756 704h5v6h-5zM767 704h5v6h-5zM777 704h11v6h-11zM840 704h53v6h-53zM898 704h163v6h-163zM1071 704h157v6h-157zM1323 704h26v6h-26zM1354 704h11v6h-11zM1381 704h5v6h-5zM1412 704h5v6h-5zM756 710h5v5h-5zM777 710h5v5h-5zM840 710h32v5h-32zM887 710h84v5h-84zM977 710h131v5h-131zM1118 710h105v5h-105zM1323 710h26v5h-26zM1354 710h11v5h-11zM1381 710h5v5h-5zM1412 710h5v5h-5zM756 715h16v6h-16zM777 715h5v6h-5zM866 715h315v6h-315zM1192 715h10v6h-10zM1213 715h5v6h-5zM1333 715h11v6h-11zM1354 715h11v6h-11zM756 721h32v5h-32zM877 721h5v5h-5zM887 721h16v5h-16zM908 721h242v5h-242zM1192 721h10v5h-10zM1333 721h11v5h-11zM1396 721h11v5h-11zM767 726h21v6h-21zM856 726h10v6h-10zM877 726h10v6h-10zM903 726h252v6h-252zM1192 726h10v6h-10zM1333 726h16v6h-16zM767 732h5v6h-5zM777 732h5v6h-5zM861 732h21v6h-21zM903 732h5v6h-5zM919 732h241v6h-241zM1192 732h10v6h-10zM1339 732h10v6h-10zM767 738h5v5h-5zM777 738h5v5h-5zM861 738h21v5h-21zM893 738h15v5h-15zM935 738h26v5h-26zM966 738h194v5h-194zM782 743h6v6h-6zM866 743h42v6h-42zM935 743h162v6h-162zM1103 743h63v6h-63zM788 749h5v5h-5zM803 749h6v5h-6zM872 749h36v5h-36zM935 749h157v5h-157zM1113 749h53v5h-53zM1517 749h11v5h-11zM803 754h6v6h-6zM877 754h31v6h-31zM919 754h168v6h-168zM1118 754h53v6h-53zM1517 754h11v6h-11zM803 760h6v6h-6zM887 760h147v6h-147zM1045 760h31v6h-31zM1124 760h47v6h-47zM1197 760h5v6h-5zM1522 760h6v6h-6zM798 766h11v5h-11zM908 766h121v5h-121zM1045 766h21v5h-21zM1129 766h47v5h-47zM1507 766h5v5h-5zM798 771h11v6h-11zM908 771h74v6h-74zM998 771h26v6h-26zM1139 771h37v6h-37zM803 777h11v5h-11zM919 777h52v5h-52zM998 777h21v5h-21zM1155 777h21v5h-21zM803 782h11v6h-11zM824 782h6v6h-6zM929 782h48v6h-48zM1003 782h5v6h-5zM1166 782h15v6h-15zM803 788h6v6h-6zM935 788h47v6h-47zM1055 788h6v6h-6zM1486 788h5v6h-5zM798 794h11v5h-11zM950 794h21v5h-21zM1055 794h11v5h-11zM798 799h16v6h-16zM950 799h16v6h-16zM971 799h11v6h-11zM1061 799h10v6h-10zM803 805h6v5h-6zM950 805h16v5h-16zM971 805h21v5h-21zM998 805h5v5h-5zM982 810h10v6h-10zM998 810h5v6h-5zM982 816h10v6h-10zM1501 816h6v6h-6zM819 822h5v5h-5zM1459 822h6v5h-6zM1475 822h5v5h-5zM1501 822h6v5h-6zM819 827h5v6h-5zM1496 827h11v6h-11zM1029 833h21v5h-21zM1496 833h11v5h-11zM1029 838h21v6h-21zM1496 838h11v6h-11zM1040 844h10v6h-10zM1071 844h11v6h-11zM1071 850h11v5h-11zM1465 850h47v5h-47zM840 855h11v6h-11zM1071 855h11v6h-11zM1312 855h6v6h-6zM1396 855h6v6h-6zM1475 855h11v6h-11zM1491 861h21v5h-21zM1097 866h6v6h-6zM1491 866h21v6h-21zM851 872h10v6h-10zM1097 872h6v6h-6zM1475 872h16v6h-16zM1496 872h11v6h-11zM966 878h11v5h-11zM1475 878h16v5h-16zM1496 878h11v5h-11zM898 883h5v6h-5zM966 883h11v6h-11zM887 889h27v5h-27zM966 889h11v5h-11zM1202 889h5v5h-5zM1328 889h5v5h-5zM903 894h11v6h-11zM919 894h5v6h-5zM1129 894h16v6h-16zM1328 894h5v6h-5zM908 900h16v6h-16zM1129 900h16v6h-16zM1333 900h11v6h-11zM914 906h10v5h-10zM929 906h11v5h-11zM1333 906h11v5h-11zM1402 906h15v5h-15zM929 911h11v6h-11zM987 911h5v6h-5zM1019 911h15v6h-15zM1040 911h5v6h-5zM1344 911h5v6h-5zM935 917h10v5h-10zM982 917h16v5h-16zM1003 917h10v5h-10zM1019 917h26v5h-26zM1150 917h5v5h-5zM935 922h10v6h-10zM1013 922h32v6h-32zM1150 922h5v6h-5zM940 928h10v6h-10zM1013 928h6v6h-6zM1160 928h16v6h-16zM1239 928h21v6h-21zM945 934h5v5h-5zM1008 934h11v5h-11zM1160 934h16v5h-16zM1244 934h21v5h-21zM1475 934h5v5h-5zM1008 939h5v6h-5zM1249 939h16v6h-16zM1475 939h16v6h-16zM1129 945h16v5h-16zM1255 945h10v5h-10zM1480 945h11v5h-11zM1045 950h21v6h-21zM1129 950h16v6h-16zM1255 950h10v6h-10zM1444 950h5v6h-5zM1491 950h5v6h-5zM1045 956h21v6h-21zM1260 956h5v6h-5zM1444 956h5v6h-5zM1491 956h5v6h-5zM1045 962h21v5h-21zM1433 962h11v5h-11zM1045 967h21v6h-21zM1433 967h11v6h-11zM1045 973h21v5h-21zM1202 978h16v6h-16zM1433 978h11v6h-11zM1113 984h5v6h-5zM1197 984h21v6h-21zM1239 984h5v6h-5zM1207 990h16v5h-16zM1207 995h16v6h-16zM1428 995h10v6h-10zM1207 1001h16v5h-16zM971 1006h6v6h-6zM1024 1006h10v6h-10zM1433 1006h5v6h-5zM1444 1006h5v6h-5zM1465 1006h5v6h-5zM971 1012h6v6h-6zM1428 1012h5v6h-5zM1444 1012h5v6h-5zM1228 1023h6v6h-6zM1444 1023h15v6h-15zM1228 1029h6v5h-6zM1391 1034h5v6h-5zM1423 1034h21v6h-21zM1402 1040h10v6h-10zM1423 1040h15v6h-15zM1449 1040h5v6h-5zM1381 1046h15v5h-15zM1407 1046h21v5h-21zM1375 1051h16v6h-16zM1396 1051h6v6h-6zM1407 1051h10v6h-10zM1381 1057h21v5h-21zM1381 1062h15v6h-15zM1013 1090h6v6h-6zM998 1113h5v5h-5zM998 1118h10v6h-10zM1024 1118h10v6h-10zM1003 1124h5v6h-5zM1019 1124h5v6h-5zM1019 1130h5v5h-5zM977 1141h10v5h-10zM945 1146h11v6h-11zM977 1146h10v6h-10zM940 1158h5v5h-5zM966 1158h26v5h-26zM966 1163h26v6h-26zM929 1169h6v5h-6zM966 1169h11v5h-11zM929 1180h6v6h-6zM929 1186h6v5h-6zM956 1191h5v6h-5zM966 1191h5v6h-5zM961 1197h5v5h-5zM950 1208h6v6h-6zM961 1208h5v6h-5zM950 1214h6v5h-6zM961 1214h5v5h-5zM961 1219h5v6h-5zM956 1225h5v5h-5zM956 1230h10v6h-10zM956 1236h10v6h-10zM956 1242h10v5h-10z"/>
<path fill="#a50026" d="M935 267h5v6h-5zM1302 558h5v6h-5zM1386 564h5v6h-5zM1244 570h11v5h-11zM1381 570h15v5h-15zM1145 575h5v6h-5zM1276 575h10v6h-10zM1407 575h10v6h-10zM1423 575h15v6h-15zM1129 581h5v5h-5zM1176 581h5v5h-5zM1323 581h5v5h-5zM1339 581h10v5h-10zM1396 581h21v5h-21zM1428 581h5v5h-5zM1438 581h6v5h-6zM1124 586h15v6h-15zM1145 586h5v6h-5zM1155 586h5v6h-5zM1166 586h15v6h-15zM1197 586h5v6h-5zM1281 586h5v6h-5zM1297 586h10v6h-10zM1339 586h10v6h-10zM1402 586h10v6h-10zM1124 592h5v6h-5zM1145 592h10v6h-10zM1187 592h5v6h-5zM1276 592h31v6h-31zM1312 592h6v6h-6zM1333 592h6v6h-6zM1360 592h5v6h-5zM1370 592h5v6h-5zM1423 592h5v6h-5zM1197 598h10v5h-10zM1213 598h10v5h-10zM1265 598h32v5h-32zM1328 598h5v5h-5zM1365 598h5v5h-5zM1407 598h5v5h-5zM1417 598h11v5h-11zM1202 603h26v6h-26zM1239 603h5v6h-5zM1255 603h5v6h-5zM1265 603h11v6h-11zM1307 603h11v6h-11zM1349 603h11v6h-11zM1423 603h15v6h-15zM1192 609h36v5h-36zM1239 609h21v5h-21zM1265 609h11v5h-11zM1281 609h26v5h-26zM1312 609h11v5h-11zM1349 609h11v5h-11zM1428 609h16v5h-16zM1192 614h21v6h-21zM1223 614h32v6h-32zM1260 614h10v6h-10zM1286 614h11v6h-11zM1344 614h16v6h-16zM1365 614h5v6h-5zM1381 614h5v6h-5zM1391 614h11v6h-11zM1423 614h15v6h-15zM1192 620h5v6h-5zM1213 620h10v6h-10zM1239 620h16v6h-16zM1260 620h10v6h-10zM1286 620h11v6h-11zM1349 620h11v6h-11zM1370 620h11v6h-11zM1386 620h10v6h-10zM1423 620h10v6h-10zM1228 626h6v5h-6zM1244 626h11v5h-11zM1323 626h5v5h-5zM1339 626h5v5h-5zM1349 626h16v5h-16zM1381 626h15v5h-15zM1417 626h6v5h-6zM1213 631h5v6h-5zM1286 631h5v6h-5zM1302 631h10v6h-10zM1339 631h5v6h-5zM1360 631h5v6h-5zM1197 637h16v5h-16zM1297 637h15v5h-15zM1192 642h10v6h-10zM1302 642h5v6h-5zM1370 642h5v6h-5zM1291 648h6v6h-6zM1375 648h6v6h-6zM741 654h5v5h-5zM1286 654h11v5h-11zM1375 654h6v5h-6zM1286 659h11v6h-11zM1019 665h5v5h-5zM1013 670h6v6h-6zM1276 670h5v6h-5zM1291 670h11v6h-11zM1024 676h5v6h-5zM1291 676h6v6h-6zM772 682h10v5h-10zM772 687h10v6h-10zM772 693h10v5h-10zM1024 693h5v5h-5zM772 704h5v6h-5zM761 710h16v5h-16zM782 710h6v5h-6zM971 710h6v5h-6zM772 715h5v6h-5zM845 715h21v6h-21zM845 721h32v5h-32zM882 721h5v5h-5zM903 721h5v5h-5zM866 726h11v6h-11zM887 726h16v6h-16zM772 732h5v6h-5zM882 732h21v6h-21zM908 732h11v6h-11zM772 738h5v5h-5zM882 738h11v5h-11zM908 738h27v5h-27zM961 738h5v5h-5zM777 743h5v6h-5zM908 743h27v6h-27zM777 749h11v5h-11zM908 749h27v5h-27zM782 754h6v6h-6zM908 754h11v6h-11zM782 760h11v6h-11zM788 766h10v5h-10zM898 766h10v5h-10zM793 771h5v6h-5zM1040 771h5v6h-5zM1040 777h5v5h-5zM798 782h5v6h-5zM798 788h5v6h-5zM809 805h5v5h-5zM840 861h5v5h-5zM845 866h6v6h-6zM987 1169h5v5h-5zM961 1191h5v6h-5zM956 1214h5v5h-5z"/>
</g>
<g fill="none" stroke="#ffff00" stroke-opacity="0.92" stroke-width="1.35" stroke-linejoin="round" stroke-linecap="round">
<path d="M719.6 599.9 719.6 590.9 725.2 584.1 717.3 577.3 713.9 572.8 716.2 554.7 713.9 545.6 719.6 536.6 725.2 525.3 729.8 516.2 730.9 502.7 741.1 497.0 754.6 493.6 756.9 482.3 762.5 477.8 762.5 466.5 772.7 462.0 778.4 457.4 784.0 447.3 788.5 443.9 793.1 434.8 784.0 430.3 784.0 425.8 793.1 424.7 793.1 391.9 788.5 388.5 788.5 371.5 784.0 369.3 778.4 360.2 778.4 355.7 788.5 351.2 788.5 335.3 798.7 335.3 798.7 330.8 804.4 324.0 808.9 319.5 814.6 312.7 824.7 310.5 824.7 287.8 830.4 284.5 830.4 278.8 840.6 274.3 856.4 274.3 856.4 268.6 876.7 267.5 876.7 263.0 888.1 261.8 888.1 257.3 898.2 257.3 898.2 247.1 908.4 244.9 918.6 247.1 918.6 256.2 912.9 261.8 902.7 263.0 902.7 274.3 908.4 281.1 914.1 274.3 929.9 274.3 929.9 268.6 935.5 267.5 940.1 261.8 936.7 253.9 942.3 250.5 946.8 256.2 945.7 263.0 960.4 263.0 966.1 268.6 971.7 268.6 978.5 278.8 981.9 285.6 992.1 285.6 1023.7 285.6 1024.9 291.2 1035.0 291.2 1037.3 295.8 1059.9 295.8 1062.2 290.1 1078.0 290.1 1078.0 285.6 1098.4 285.6 1098.4 290.1 1102.9 296.9 1123.2 301.4 1133.4 307.1 1134.5 317.2 1139.1 326.3 1154.9 330.8 1166.2 335.3 1166.2 341.0 1171.9 342.1 1180.0 345.1M1061.0 274.3 1071.7 274.3 1071.7 279.2 1061.0 279.2 1061.0 274.3M902.7 291.2 914.1 285.6 918.6 296.9 918.6 312.7 914.1 318.4 903.9 318.4 902.7 312.7 898.2 310.5 898.2 296.9 902.7 291.2M907.3 279.9 912.9 279.9 912.9 287.8 907.3 287.8 907.3 279.9M1180.0 354.6 1186.8 357.9 1186.8 368.1 1197.0 369.3 1202.6 374.9 1208.3 380.6 1212.8 388.5 1280.6 390.7 1280.6 396.4 1270.5 402.0 1270.5 432.6 1276.1 437.1 1278.4 446.1 1276.1 463.1 1270.5 464.2 1264.8 469.9 1279.5 471.0 1296.5 469.9 1302.1 472.1 1307.8 463.1 1307.8 457.4 1313.4 452.9 1317.9 442.7 1323.6 430.3 1329.3 424.7 1338.3 430.3 1339.4 446.1 1344.0 452.9 1348.5 469.9 1354.1 475.5 1359.8 482.3 1364.3 486.8 1364.3 502.7 1358.7 507.2 1354.1 514.0 1372.2 514.0 1375.6 520.8 1375.6 525.3 1391.4 526.4 1396.0 532.1 1392.6 547.9 1384.7 554.7 1384.7 559.2 1397.1 545.6 1402.7 537.7 1410.7 535.5 1442.3 542.3 1443.5 547.9 1454.8 549.0 1460.4 553.6 1469.5 554.7 1476.2 564.9 1480.8 566.0 1480.8 576.2 1511.3 576.2 1512.4 580.7 1532.8 581.8 1532.8 586.4 1564.4 585.2 1579.1 587.5 1580.3 592.0 1596.1 597.7 1596.1 600.0M1337.2 530.3 1347.8 530.3 1347.8 537.1 1337.2 537.1 1337.2 530.3M1328.1 542.9 1338.3 542.9 1338.3 553.6 1328.1 553.6 1328.1 542.9M1306.6 552.4 1324.7 552.4 1324.7 559.2 1306.6 559.2 1306.6 552.4M722.2 600.0 719.6 602.3 709.4 609.0 703.7 615.8 704.9 629.4 708.3 638.4 709.4 652.0 713.9 665.6 725.2 665.6 735.4 674.6 741.1 685.9 746.7 695.0 754.6 706.3 758.0 717.6 761.4 726.6 767.1 735.7 770.5 744.7 775.0 756.0 779.5 762.8 781.8 771.9 787.4 778.7 791.9 790.0 797.6 799.0 802.1 803.5 806.6 817.1 808.9 826.1 808.9 835.2 815.7 844.2 820.2 852.1 830.4 860.1 836.0 862.3 842.8 871.4 855.3 880.4 867.7 888.3 879.0 891.7 891.4 898.5 903.9 904.2 912.9 914.3 923.1 923.4 931.0 931.3 936.7 939.2 936.7 952.8 938.9 966.4 939.8 980.0M1599.5 600.0 1605.1 604.5 1611.9 609.0 1621.0 620.4 1627.8 629.4 1639.1 633.9 1654.9 637.3 1666.2 638.4 1675.3 648.6 1678.6 665.6 1680.0 681.3M1680.0 681.6 1678.6 701.8 1670.7 722.1 1663.9 740.2 1650.4 756.0 1639.1 767.3 1630.0 780.9 1618.7 794.5 1607.4 812.6 1598.4 814.8 1593.8 828.4 1593.8 912.1 1589.3 921.1 1578.0 934.7 1580.3 961.8 1571.2 970.9 1564.0 979.9M939.9 980.0 939.9 998.1 936.5 1013.9 935.4 1027.5 930.9 1041.1 930.9 1054.6 933.1 1075.0 930.9 1097.6 925.2 1120.2 919.6 1138.3 913.9 1158.7 913.9 1179.0 909.4 1197.1 909.4 1235.5 913.9 1240.1 913.9 1258.2 909.4 1262.7 904.9 1280.8 899.2 1296.6 893.6 1312.4 887.9 1319.2 883.4 1332.8 880.0 1346.3M1220.1 1360.0 1223.7 1341.8 1213.6 1335.0 1207.9 1323.7 1213.6 1312.4 1207.9 1305.6 1196.6 1301.1 1183.0 1296.6 1181.9 1271.7 1185.3 1289.8 1196.6 1293.2 1213.6 1296.6 1232.8 1301.1 1250.9 1303.8 1264.4 1301.1 1278.0 1294.3 1287.1 1285.3 1296.1 1276.2 1305.1 1269.5 1311.9 1258.2 1314.2 1249.1 1318.7 1240.1 1326.6 1231.0 1332.3 1224.2 1343.6 1219.7 1349.2 1210.7 1354.9 1203.9 1359.4 1197.1 1362.8 1185.8 1366.2 1179.0 1375.3 1174.5 1380.0 1170.9M1334.5 1196.0 1339.1 1200.5 1349.2 1202.7 1349.2 1206.1 1341.3 1215.2 1334.5 1219.7 1330.0 1226.5 1321.0 1231.0 1316.5 1238.9 1315.3 1233.3 1323.2 1224.2 1332.3 1215.2 1334.5 1206.1 1334.5 1196.0M1562.6 980.0 1559.8 984.5 1554.1 993.6 1549.6 1002.6 1554.1 1009.4 1554.1 1016.2 1538.3 1021.8 1531.5 1027.5 1531.5 1035.4 1502.1 1038.8 1497.6 1039.9 1484.0 1041.1 1470.5 1045.6 1464.8 1050.1 1459.1 1055.8 1438.8 1058.0 1423.0 1070.5 1411.7 1079.5 1402.6 1086.3 1395.8 1093.1 1391.3 1102.1 1397.0 1107.8 1397.0 1112.3 1391.3 1115.7 1391.3 1133.8 1397.0 1136.0 1397.0 1145.1 1390.2 1149.6 1390.2 1158.7 1380.0 1164.9M867.1 1360.0 869.3 1369.0 867.1 1382.6 871.6 1384.9 872.7 1397.3 877.2 1403.0 872.7 1405.2 867.1 1414.3 867.1 1425.6 862.5 1432.4 862.5 1450.5 868.2 1452.7 877.2 1450.5 886.3 1452.7 893.1 1459.5 893.1 1468.5 884.0 1470.8 881.8 1486.6 877.2 1495.7 877.2 1518.3 887.4 1513.8 887.4 1525.1 877.2 1527.3 877.2 1540.9 867.1 1545.4 867.1 1563.5 860.3 1565.8 861.4 1574.8 854.6 1581.6 854.6 1597.4 865.9 1592.9 877.2 1595.2 877.2 1598.6 865.9 1602.0 861.4 1611.0 851.2 1611.0 851.2 1624.6 867.1 1629.1 867.1 1658.5 861.4 1663.0 865.9 1672.1 872.7 1672.1 881.8 1670.9 881.8 1681.1 893.1 1687.9 893.1 1695.0M976.7 1695.0 976.7 1689.0 971.1 1687.9 971.1 1682.3 965.4 1681.1 965.4 1672.1 960.9 1670.9 955.3 1666.4 955.3 1661.9 960.9 1660.8 960.9 1649.5 972.2 1646.1 976.7 1642.7 976.7 1637.0 992.6 1635.9 992.6 1616.7 1002.7 1615.5 1002.7 1611.0 1008.4 1605.4 1019.7 1599.7 1028.8 1597.4 1028.8 1588.4 1034.4 1586.1 1034.4 1577.1 1028.8 1576.0 1008.4 1574.8 1002.7 1569.2 998.2 1565.8 993.7 1559.0 993.7 1552.2 997.1 1543.2 1003.9 1537.5 1008.4 1531.9 1019.7 1530.7 1033.3 1528.5 1035.5 1522.8 1040.1 1518.3 1042.3 1504.7 1042.3 1497.9 1049.1 1488.9 1060.4 1486.6 1060.4 1483.2 1045.7 1479.9 1045.7 1475.3 1061.5 1475.3 1061.5 1481.0 1076.2 1479.9 1076.2 1468.5 1074.0 1464.0 1067.2 1465.2 1045.7 1464.0 1045.7 1435.8 1055.9 1434.6 1067.2 1436.9 1071.7 1441.4 1087.6 1441.4 1097.7 1438.0 1103.4 1434.6 1103.4 1418.8 1107.9 1407.5 1103.4 1405.2 1103.4 1391.7 1119.2 1391.7 1119.2 1393.9 1123.7 1396.2 1164.4 1390.5 1171.2 1386.0 1187.1 1380.4 1202.9 1374.7 1207.4 1366.8 1211.5 1360.0M856.9 1458.4 867.1 1458.4 868.2 1466.3 863.7 1479.9 863.7 1492.3 851.2 1492.3 851.2 1482.1 856.9 1477.6 856.9 1458.4M846.7 1514.9 865.9 1514.9 865.9 1525.1 846.7 1525.1 846.7 1514.9M846.7 1537.5 855.8 1537.5 855.8 1543.2 846.7 1543.2 846.7 1537.5M861.4 1531.9 865.9 1531.9 865.9 1543.2 861.4 1543.2 861.4 1531.9M841.1 1556.7 867.1 1556.7 867.1 1565.8 841.1 1565.8 841.1 1556.7M845.6 1547.7 850.1 1547.7 850.1 1552.2 845.6 1552.2 845.6 1547.7M830.9 1587.3 841.1 1587.3 841.1 1595.2 830.9 1595.2 830.9 1587.3M830.9 1595.2 836.5 1595.2 836.5 1606.5 830.9 1606.5 830.9 1595.2M841.1 1611.0 845.6 1611.0 845.6 1631.4 841.1 1631.4 841.1 1611.0M845.6 1620.1 850.1 1620.1 850.1 1634.8 845.6 1634.8 845.6 1620.1M835.4 1654.0 841.1 1654.0 841.1 1660.8 835.4 1660.8 835.4 1654.0M845.6 1644.9 850.1 1644.9 850.1 1649.5 845.6 1649.5 845.6 1644.9M851.2 1660.8 861.4 1660.8 861.4 1667.6 851.2 1667.6 851.2 1660.8M836.5 1676.6 845.6 1676.6 845.6 1685.6 836.5 1685.6 836.5 1676.6M841.1 1685.6 850.1 1685.6 850.1 1694.7M841.1 1694.7 841.1 1685.6M861.4 1676.6 875.0 1676.6 875.0 1683.4 861.4 1683.4 861.4 1676.6M877.2 1676.6 881.8 1676.6 881.8 1694.7M877.2 1694.7 877.2 1676.6M881.8 1683.4 893.1 1683.4 893.1 1692.4 881.8 1692.4 881.8 1683.4M825.2 1604.2 830.9 1604.2 830.9 1615.5 825.2 1615.5 825.2 1604.2M856.9 1527.3 861.4 1527.3 861.4 1531.9 856.9 1531.9 856.9 1527.3M835.4 1626.8 841.1 1626.8 841.1 1638.2 835.4 1638.2 835.4 1626.8M856.9 1638.2 861.4 1638.2 861.4 1651.7 856.9 1651.7 856.9 1638.2M830.9 1638.2 835.4 1638.2 835.4 1644.9 830.9 1644.9 830.9 1638.2M867.1 1625.7 877.2 1625.7 877.2 1632.5 867.1 1632.5 867.1 1625.7M1045.7 1475.3 1061.5 1475.3 1061.5 1481.0 1045.7 1481.0 1045.7 1475.3M953.7 1695.0 953.7 1698.6 941.0 1699.5 941.0 1704.0 924.7 1699.5 924.7 1710.4 921.1 1712.2 921.1 1724.8 906.6 1726.6 903.0 1719.4 890.4 1719.4 888.5 1710.4 903.0 1705.8 903.0 1703.1 881.3 1704.0 880.4 1708.5 870.5 1708.5 870.5 1701.3 880.4 1697.7 880.4 1695.0M950.1 1698.6 970.0 1698.6 975.4 1704.9 979.0 1710.4 971.8 1715.8 982.6 1715.8 992.6 1723.0 998.0 1727.5 1008.0 1733.0 1018.8 1738.4 1018.8 1742.9 1044.1 1744.7 1044.1 1749.3 1018.8 1749.3 1018.8 1759.2 1013.4 1760.1 1013.4 1750.2 1008.0 1748.3 1004.3 1755.6 997.1 1757.4 993.5 1755.6 982.6 1755.6 982.6 1750.2 971.8 1750.2 962.7 1746.5 951.9 1744.7 951.9 1739.3 941.0 1730.3 939.2 1724.8 956.4 1719.4 956.4 1714.9 941.0 1715.8 935.6 1710.4 941.0 1706.7 941.0 1701.3 950.1 1701.3 950.1 1698.6M1055.9 1742.9 1071.3 1742.9 1071.3 1748.7 1055.9 1748.7 1055.9 1742.9M898.5 1738.4 903.9 1738.4 903.9 1748.3 898.5 1748.3 898.5 1738.4M906.6 1738.4 913.9 1738.4 913.9 1742.9 906.6 1742.9 906.6 1738.4M939.2 1733.9 951.0 1733.9 951.0 1744.7 939.2 1744.7 939.2 1733.9M951.0 1739.3 960.9 1739.3 960.9 1744.7 951.0 1744.7 951.0 1739.3M962.7 1750.2 977.2 1750.2 977.2 1755.6 962.7 1755.6 962.7 1750.2M993.5 1754.7 1006.1 1754.7 1006.1 1760.1 993.5 1760.1 993.5 1754.7M1013.4 1753.8 1018.8 1753.8 1018.8 1760.1 1013.4 1760.1 1013.4 1753.8M881.3 1695.0 881.3 1698.6 865.0 1698.6 865.0 1695.0M859.6 1704.0 881.3 1704.0 881.3 1708.5 859.6 1708.5 859.6 1704.0M874.1 1708.5 888.5 1708.5 888.5 1715.8 874.1 1715.8 874.1 1708.5M877.7 1715.8 890.4 1715.8 890.4 1726.6 877.7 1726.6 877.7 1715.8M862.3 1715.8 870.5 1715.8 870.5 1720.3 862.3 1720.3 862.3 1715.8M888.5 1726.6 895.8 1726.6 895.8 1730.3 888.5 1730.3 888.5 1726.6M917.5 1726.6 924.7 1726.6 924.7 1732.1 917.5 1732.1 917.5 1726.6M852.4 1704.9 859.6 1704.9 859.6 1708.5 852.4 1708.5 852.4 1704.9"/><path d="M902.7 263.0 898.2 272.0 888.1 281.1 881.3 294.6 874.5 312.7 871.1 326.3 868.8 337.6 872.2 351.2 884.7 355.7 892.6 357.9 897.1 364.7 912.9 365.9 926.5 364.7 940.1 368.1 953.6 386.2 971.7 384.0 996.6 382.8 990.9 400.9 988.7 416.7 990.9 434.8 996.6 446.1 987.6 459.7 996.6 468.8 1003.4 482.3 1007.9 497.0 1017.0 503.8 1023.7 506.1 1035.0 502.7 1037.3 507.2 1041.8 500.4 1050.9 495.9 1059.9 491.4 1069.0 482.3 1081.4 474.4 1093.8 480.1 1100.6 502.7 1100.6 520.8 1105.1 536.6 1118.7 552.4M945.7 484.6 980.8 484.6 983.0 478.9 987.6 483.5 998.9 475.5 1007.9 497.0M945.7 484.6 945.7 498.2 960.4 500.4 960.4 508.3 942.3 510.6 941.2 520.8 950.2 536.6 954.8 547.9 953.6 570.5 950.2 599.9M996.6 387.3 1003.4 396.4 1014.7 394.1 1029.4 387.3 1035.0 387.3 1041.8 400.9 1050.9 421.3 1053.1 430.3 1062.2 437.1 1064.4 450.7 1069.0 466.5 1081.4 468.8 1081.4 474.4M1050.9 428.1 1064.4 432.6 1078.0 434.8 1091.6 442.7 1100.6 430.3 1118.7 423.5 1139.1 412.2 1136.8 407.7 1123.2 391.9 1127.8 376.0 1145.9 367.0 1136.8 355.7 1145.9 348.9 1154.9 342.1 1166.2 335.3M912.9 353.4 928.8 359.1 953.6 343.2 969.5 342.1 994.3 346.6 1019.2 351.2 1037.3 345.5 1050.9 351.2 1059.9 343.2 1093.8 335.3 1116.5 331.9 1132.3 326.3M1019.2 351.2 1003.4 364.7 1002.3 378.3 996.6 382.8M971.7 330.8 984.2 330.8 994.3 346.6M984.2 330.8 987.6 308.2 1014.7 299.1 1032.8 301.4 1050.9 324.0 1044.1 333.1 1037.3 345.5M928.8 321.8 942.3 326.3 962.7 339.9 971.7 330.8 967.2 310.5 960.4 299.1M846.2 395.3 851.9 364.7 860.9 353.4 879.0 353.4 883.5 364.7 897.1 364.7M797.6 369.3 815.7 396.4 846.2 395.3 854.1 391.9 867.7 394.1 876.7 387.3 890.3 376.0 899.4 367.0M876.7 428.1 880.1 405.4 892.6 398.7 894.8 387.3 942.3 382.8 953.6 386.2M876.7 428.1 885.8 425.8 919.7 413.4 928.8 400.9 943.5 394.1 942.3 382.8M919.7 413.4 919.7 458.6M845.1 459.7 851.9 482.3 865.4 486.8 865.4 471.0 897.1 459.7 919.7 458.6 931.0 459.7 942.3 443.9 976.2 433.7 990.9 434.8M924.2 463.1 931.0 471.0 940.1 477.8 945.7 484.6M900.5 508.3 910.7 491.4 915.2 484.6 940.1 477.8M865.4 486.8 879.0 500.4 888.1 495.9 900.5 508.3 915.2 520.8 924.2 523.0 937.8 536.6 940.1 546.8 950.2 547.9M811.2 488.0 833.8 510.6 851.9 532.1 879.0 536.6 897.1 529.8 915.2 520.8M851.9 536.6 860.9 547.9 876.7 572.8 892.6 577.3 919.7 572.8 942.3 584.1 931.0 599.9M730.9 502.7 754.6 493.6 779.5 507.2 793.1 514.0 811.2 514.0 829.3 525.3 833.8 541.1 824.7 557.0 802.1 579.6 779.5 590.9 765.9 599.9M806.6 355.7 810.0 328.5 824.7 315.0M806.6 355.7 824.7 353.4 840.6 339.9 847.3 355.7 851.9 364.7M788.5 450.7 799.9 452.9 813.4 448.4 817.9 457.4 836.0 443.9 846.2 437.1 860.9 428.1 876.7 428.1M815.7 396.4 815.7 414.5 806.6 430.3 793.1 432.6M775.0 466.5 786.3 475.5 797.6 484.6 811.2 488.0 822.5 475.5 838.3 459.7 845.1 459.7M793.1 514.0 797.6 500.4 811.2 488.0M730.9 514.0 747.8 518.5 765.9 523.0 777.2 518.5 786.3 511.7M745.6 520.8 736.5 547.9 725.2 572.8 732.0 590.9M765.9 523.0 768.2 547.9 765.9 568.3 752.4 590.9 745.6 599.9M747.8 550.2 768.2 547.9 793.1 545.6 824.7 557.0M914.1 276.5 926.5 294.6 942.3 287.8 960.4 296.9M926.5 294.6 906.1 337.6 892.6 357.9M942.3 315.0 951.4 308.2 967.2 310.5M928.8 321.8 912.9 346.6 912.9 353.4M1069.0 294.6 1071.2 315.0 1087.1 328.5 1093.8 335.3 1107.4 326.3 1102.9 310.5 1105.1 299.1M1141.3 353.4 1154.9 364.7 1175.3 367.0M1127.8 376.0 1152.6 373.8 1173.0 353.4 1180.0 348.9M829.3 285.6 838.3 294.6 847.3 328.5 842.8 337.6M865.4 274.3 867.7 315.0 858.7 346.6 860.9 353.4M879.0 287.8 870.0 317.2 871.1 326.3M1153.8 407.7 1149.2 419.0 1157.2 446.1 1154.9 468.8 1166.2 491.4 1180.0 493.6M1118.7 552.4 1114.2 545.6 1123.2 536.6 1143.6 518.5 1175.3 518.5M1212.8 388.5 1209.4 407.7 1197.0 414.5 1192.4 432.6 1201.5 443.9 1209.4 448.4 1220.7 477.8 1236.5 480.1 1234.3 471.0 1256.9 465.4 1264.8 469.9M1270.5 402.0 1267.1 416.7 1270.5 432.6 1278.4 446.1 1275.0 464.2 1264.8 469.9M1209.4 407.7 1236.5 403.2 1254.6 403.2 1270.5 402.0M1224.1 390.7 1226.4 403.2M1238.8 389.6 1236.5 403.2 1247.8 412.2 1252.4 432.6 1260.3 428.1 1258.0 404.3 1263.7 398.7 1264.8 389.6M1254.6 389.6 1254.6 403.2M1180.0 493.6 1184.5 489.1 1193.6 490.2 1207.1 480.1 1220.7 477.8M1184.5 416.7 1195.8 457.4 1184.5 489.1M1180.0 369.3 1189.0 376.0 1193.6 382.8 1209.4 391.9M1180.0 378.3 1189.0 391.9 1195.8 419.0M1264.8 469.9 1261.4 482.3 1275.0 486.8 1286.3 493.6 1293.1 507.2 1297.6 514.0 1302.1 534.3 1308.9 543.4 1313.4 549.0 1324.7 545.6M1442.3 547.9 1440.1 572.8 1433.3 586.4 1426.5 599.9M1532.8 584.1 1528.3 599.9M1545.2 588.6 1541.8 599.9M1180.0 537.7 1202.6 552.4 1228.6 572.8 1223.0 599.9M1324.7 545.6 1338.3 532.1 1356.4 511.7 1363.2 498.2M1338.3 520.8 1372.2 516.2 1390.3 527.6M1347.3 563.7 1367.7 561.5 1383.5 554.7M945.7 600.0 928.8 606.8 942.3 619.2 925.4 617.0 897.1 627.1 881.3 638.4 874.5 661.1 860.9 679.1 858.7 692.7 865.4 706.3 879.0 726.6 897.1 744.7 928.8 744.7 931.0 733.4 919.7 747.0 906.1 767.3 894.8 776.4 892.6 787.7 903.9 808.1 919.7 814.8 935.5 817.1 951.4 820.5 962.7 814.8M865.4 683.7 935.5 705.2 1007.9 743.6 1039.6 740.2 1040.7 758.3 1044.1 785.4 1059.9 801.3 1078.0 805.8 1093.8 814.8 1109.7 823.9 1130.0 825.0 1143.6 837.4 1145.9 860.1M1007.9 743.6 1019.2 735.7 1032.8 733.4 1050.9 726.6 1069.0 713.1 1078.0 702.9 1093.8 702.9 1109.7 717.6 1119.8 718.7 1180.0 718.7M928.8 744.7 928.8 767.3 951.4 768.5 969.5 771.9 983.0 767.3 1007.9 753.8 1039.6 740.2M951.4 768.5 967.2 799.0 963.8 817.1M963.8 817.1 964.9 839.7 958.2 853.3 954.8 871.4 964.9 889.5 953.6 905.3 951.4 914.3 960.4 925.6 969.5 952.8 974.0 961.8 989.8 966.4 1005.6 959.6 1023.7 952.8M967.2 799.0 983.0 790.0 1007.9 796.7 1001.1 817.1 994.3 835.2 996.6 855.5 1007.9 871.4 1023.7 887.2 1039.6 889.5 1050.9 882.7 1082.5 878.2 1069.0 851.0 1114.2 826.1M1119.8 718.7 1118.7 767.3 1143.6 769.6 1152.6 778.7 1154.9 799.0 1143.6 821.6 1130.0 825.0M709.4 653.1 723.0 656.5 733.1 648.6 744.5 653.1 747.8 665.6 745.6 676.9 750.1 690.5 759.1 695.0 771.6 692.7 779.5 687.1 781.8 645.2 779.5 629.4 784.0 600.0M781.8 645.2 797.6 650.9 806.6 656.5 824.7 662.2 828.1 667.8 815.7 679.1 814.6 690.5 820.2 708.5 817.9 717.6 824.7 733.4 842.8 717.6 847.3 717.6M765.9 600.0 762.5 613.6 763.7 627.1 759.1 643.0 760.3 652.0 756.9 674.6M727.5 600.0 745.6 613.6 747.8 629.4 745.6 652.0M779.5 710.8 797.6 717.6 810.0 710.8 817.9 717.6M847.3 717.6 842.8 735.7 854.1 758.3 849.6 767.3 820.2 753.8 813.4 756.0M806.6 771.9 824.7 765.1 849.6 767.3 867.7 765.1 867.7 778.7 860.9 794.5 847.3 792.2 836.0 792.2 827.0 808.1 824.7 826.1M860.9 794.5 867.7 812.6 883.5 823.9 897.1 832.9 892.6 848.8 879.0 851.0 867.7 853.3 867.7 839.7 860.9 821.6M838.3 823.9 842.8 844.2 856.4 862.3 872.2 866.8 879.0 851.0M892.6 848.8 919.7 860.1 924.2 882.7 935.5 894.0 946.8 914.3 960.4 925.6M934.4 814.8 924.2 837.4 919.7 860.1M903.9 808.1 935.5 817.1M1050.9 882.7 1053.1 900.8 1062.2 912.1 1050.9 927.9 1069.0 948.3 1073.5 979.9M1005.6 959.6 1014.7 927.9 1005.6 894.0 1007.9 871.4M960.4 925.6 980.8 916.6 1014.7 921.1 1032.8 925.6 1050.9 927.9M1145.9 860.1 1154.9 887.2 1180.0 887.2M1109.7 979.9 1118.7 961.8 1150.4 955.0 1180.0 952.8M935.5 952.8 958.2 943.7 969.5 952.8M1218.4 600.0 1184.5 672.4 1193.6 690.5 1202.6 713.1 1218.4 731.2 1356.4 742.5M1426.5 600.0 1390.3 640.7 1412.9 643.0 1415.2 665.6 1410.7 683.7 1435.5 701.8 1424.2 724.4 1435.5 744.7 1449.1 756.0M1390.3 640.7 1397.1 656.5 1379.0 674.6 1379.0 708.5 1358.7 740.2 1347.3 778.7 1349.6 803.5 1358.7 801.3 1356.4 812.6 1374.5 819.4 1381.3 808.1 1388.1 820.5 1410.7 819.4 1442.3 810.3M1449.1 756.0 1446.8 726.6 1458.2 695.0 1492.1 672.4 1510.2 667.8 1512.4 622.6 1523.7 600.0M1541.8 600.0 1548.6 622.6 1562.2 674.6 1562.2 688.2 1550.9 713.1 1532.8 728.9 1514.7 735.7 1494.3 733.4 1492.1 749.3 1467.2 766.2 1449.1 756.0M1449.1 756.0 1435.5 774.1 1442.3 787.7 1442.3 810.3 1440.1 830.7 1448.0 848.8 1444.6 862.3M1444.6 862.3 1464.9 848.8 1483.0 842.0 1496.6 851.0 1512.4 851.0 1532.8 862.3 1544.1 873.6 1564.4 875.9 1574.6 882.7 1564.4 898.5 1559.9 912.1 1578.0 932.4M1562.2 688.2 1573.5 685.9 1593.8 697.2 1600.6 699.5 1598.4 676.9 1602.9 661.1 1623.2 633.9 1639.1 633.9M1602.9 661.1 1630.0 658.8 1623.2 670.1 1641.3 674.6 1648.1 665.6 1680.0 667.8M1600.6 699.5 1630.0 688.2 1636.8 706.3 1654.9 695.0 1680.0 688.2M1550.9 713.1 1559.9 731.2 1582.5 715.3 1605.1 726.6 1618.7 722.1 1639.1 731.2 1680.0 719.9M1605.1 726.6 1614.2 740.2 1632.3 749.3 1650.4 756.0M1614.2 740.2 1618.7 758.3 1609.7 765.1 1618.7 780.9 1630.0 771.9M1358.7 801.3 1342.8 835.2 1338.3 855.5 1324.7 866.8 1306.6 891.7 1295.3 905.3 1297.6 927.9 1302.1 939.2 1342.8 957.3 1338.3 979.9M1444.6 862.3 1433.3 853.3 1426.5 862.3 1428.8 878.2 1417.4 880.4M1399.4 871.4 1417.4 870.2 1417.4 881.5 1399.4 881.5 1399.4 871.4M1417.4 881.5 1422.0 900.8 1415.2 912.1 1419.7 925.6 1406.1 934.7 1374.5 939.2 1356.4 941.5 1342.8 957.3M1342.8 957.3 1351.9 965.2 1376.7 966.4 1383.5 970.9 1415.2 968.6 1419.7 979.9M1202.6 923.4 1232.0 907.6 1254.6 916.6 1279.5 914.3 1284.0 909.8 1279.5 923.4 1297.6 925.6M1180.0 889.5 1186.8 887.2 1186.8 896.2 1202.6 923.4 1204.9 930.2 1191.3 979.9M1578.0 932.4 1553.1 925.6 1546.4 943.7 1550.9 961.8 1541.8 979.9M941.1 1002.6 970.5 993.6 979.5 980.0M970.5 993.6 986.3 1034.3 1002.1 1034.3 1003.2 1045.6 972.7 1072.7 977.2 1120.2 975.0 1127.0 961.4 1138.3 947.8 1160.9 927.5 1174.5 938.8 1188.1 945.6 1201.6 929.8 1219.7 936.5 1244.6 932.0 1314.7 936.5 1341.8 954.6 1359.9M929.8 1102.1 970.5 1093.1M927.5 1174.5 913.9 1176.7M913.9 1240.1 936.5 1244.6 956.9 1240.1 977.2 1242.3 997.6 1235.5M909.4 1280.8 941.1 1271.7 938.8 1289.8M898.1 1296.6 934.3 1303.4M1002.1 1034.3 1022.5 1011.7 1038.3 1013.9 1067.7 1015.1 1092.6 1015.1 1103.9 1027.5 1115.2 1041.1 1135.5 1054.6 1178.5 1072.7 1203.4 1088.5 1180.8 1131.5 1176.2 1148.5 1117.4 1148.5 1116.3 1096.5 1065.4 1095.3 1056.4 1120.2 1045.1 1147.3 1047.3 1179.0 1038.3 1196.0 1031.5 1219.7 1031.5 1234.4 997.6 1235.5 1004.4 1271.7 1015.7 1301.1 1013.4 1326.0M1103.9 980.0 1097.1 1015.1M1103.9 1027.5 1103.9 1063.7 1081.3 1095.3M1103.9 1063.7 1128.8 1079.5 1160.4 1108.9 1183.0 1124.7M1038.3 1013.9 1042.8 1036.5 1060.9 1034.3 1065.4 1018.4M972.7 1086.3 1013.4 1088.5 1015.7 1106.6 1029.3 1113.4 1058.7 1108.9M1020.2 1045.6 1024.7 1059.1 1042.8 1070.5 1065.4 1065.9 1065.4 1047.8M977.2 1120.2 997.6 1115.7 1024.7 1133.8 1036.0 1149.6 1045.1 1147.3M947.8 1160.9 965.9 1142.8 984.0 1151.9 993.1 1156.4 1015.7 1160.9 1031.5 1179.0 1038.3 1196.0M961.4 1183.5 975.0 1185.8 997.6 1208.4 1004.4 1224.2 1011.2 1235.5M1047.3 1179.0 1067.7 1181.3 1106.1 1189.2 1112.9 1208.4 1106.1 1233.3 1115.2 1258.2 1092.6 1290.9 1081.3 1292.1 1081.3 1359.9M1116.3 1148.5 1108.4 1190.3M1031.5 1234.4 1049.6 1246.8 1045.1 1269.5 1045.1 1326.0 979.5 1328.3 979.5 1359.9M1045.1 1305.6 1081.3 1305.6M1092.6 1290.9 1117.4 1290.9 1146.8 1268.3M1176.2 1148.5 1169.5 1172.2 1160.4 1176.7 1160.4 1206.1 1140.1 1231.0 1137.8 1253.6 1146.8 1268.3 1180.8 1283.0M1160.4 1201.6 1183.0 1197.1 1196.6 1206.1M1203.4 1088.5 1226.0 1075.0 1250.9 1070.5 1269.0 1056.9 1275.7 1047.8 1287.1 1034.3 1305.1 1025.2 1323.2 1000.4 1334.5 980.0M1305.1 1025.2 1332.3 1029.8 1380.0 1036.5M1269.0 1056.9 1264.4 1093.1 1241.8 1151.9 1196.6 1206.1 1185.3 1267.2 1183.0 1289.8M1264.4 1093.1 1282.5 1097.6 1284.8 1111.2 1332.3 1120.2 1336.8 1113.4 1380.0 1106.6M1284.8 1111.2 1282.5 1127.0 1241.8 1151.9M1282.5 1127.0 1298.4 1129.3 1332.3 1138.3 1350.4 1158.7 1368.5 1160.9 1361.7 1179.0M1212.4 1120.2 1223.7 1138.3 1237.3 1136.0M1180.8 1131.5 1210.2 1136.0M1196.6 1016.2 1196.6 980.0M1196.6 1016.2 1228.3 1020.7 1241.8 1027.5 1246.4 1052.4 1271.2 1056.9M1153.6 980.0 1158.2 993.6 1153.6 1013.9 1176.2 1018.4 1196.6 1016.2M1135.5 1054.6 1151.4 1047.8 1160.4 1020.7 1176.2 1018.4M1196.6 1206.1 1214.7 1197.1 1237.3 1212.9 1269.0 1231.0 1296.1 1254.8 1273.5 1280.8 1264.4 1301.1M1192.1 1226.5 1232.8 1222.0 1237.3 1212.9M1189.8 1249.1 1219.2 1246.8 1232.8 1222.0M1185.3 1267.2 1207.9 1262.7 1250.9 1249.1 1296.1 1254.8M1207.9 1262.7 1226.0 1296.6M1250.9 1249.1 1244.1 1296.6M1420.7 980.0 1423.0 1000.4 1434.3 1002.6 1432.0 1020.7 1438.8 1034.3 1450.1 1033.1 1470.5 1023.0 1502.1 1013.9 1524.7 1007.1 1533.8 989.0 1533.8 980.0M1533.8 989.0 1538.3 995.8 1551.9 997.0M1470.5 1023.0 1475.0 1028.6 1484.0 1028.6 1479.5 1038.8M1380.0 1073.8 1392.4 1075.0 1393.6 1081.8 1402.6 1086.3M1380.0 1103.2 1391.3 1103.2M917.9 1360.0 922.5 1382.6 913.4 1391.7 908.9 1405.2 903.2 1427.8 904.4 1459.5 897.6 1468.5 899.9 1486.6 906.6 1504.7 904.4 1513.8 917.9 1516.0 915.7 1520.6 899.9 1522.8 915.7 1536.4 904.4 1540.9 906.6 1551.1 904.4 1559.0 906.6 1565.8 899.9 1583.9 890.8 1595.2 893.1 1604.2 886.3 1611.0 884.0 1617.8 877.2 1623.5 870.5 1631.4 868.2 1642.7 875.0 1656.2 893.1 1654.0 895.3 1663.0 893.1 1676.6 902.1 1685.6 942.8 1685.6 976.7 1692.4M869.3 1369.0 877.2 1365.7 906.6 1378.1 922.5 1382.6M872.7 1405.2 886.3 1408.6 903.2 1412.0 908.9 1405.2M867.1 1423.3 881.8 1427.8 903.2 1432.4M903.2 1439.1 917.9 1441.4 922.5 1432.4 938.3 1427.8 945.1 1414.3 967.7 1400.7 984.7 1393.9 979.0 1387.1 979.0 1360.0M979.0 1360.0 990.3 1373.6 1015.2 1388.3 1062.7 1391.7 1080.8 1401.8M1081.9 1360.0 1081.9 1432.4 1094.3 1440.3M904.4 1461.8 1045.7 1461.8M906.6 1551.1 992.6 1551.1M877.2 1495.7 893.1 1500.2 904.4 1507.0M852.4 1613.3 877.2 1623.5M892.2 1600.0 895.8 1603.6 888.5 1610.9 877.7 1623.5 852.4 1610.9M877.7 1623.5 877.7 1632.6 868.6 1636.2 868.6 1643.4 875.9 1656.1 892.2 1654.3 895.8 1661.5 892.2 1672.4 901.2 1684.1 942.8 1685.0 975.4 1689.6M970.9 1698.6 970.9 1748.3M962.7 1748.3 984.4 1749.3 1004.3 1752.0M493.6 519.6 497.4 524.5 498.0 528.8 503.4 535.4 506.1 539.7 504.5 544.0 499.1 546.2 492.6 545.1 490.9 542.4 493.6 539.2 498.0 537.0 495.8 532.1 493.6 527.8 492.6 522.9 489.3 523.4 490.9 520.7 493.6 519.6M493.4 531.6 492.9 533.3 491.3 534.5 489.5 534.5 487.9 533.3 487.4 531.6 487.9 529.8 489.5 528.7 491.3 528.7 492.9 529.8 493.4 531.6M511.2 528.8 510.6 530.4 508.8 531.4 506.7 531.4 505.0 530.4 504.3 528.8 505.0 527.3 506.7 526.3 508.8 526.3 510.6 527.3 511.2 528.8M519.5 537.5 518.7 539.4 516.6 540.6 514.1 540.6 512.0 539.4 511.2 537.5 512.0 535.6 514.1 534.4 516.6 534.4 518.7 535.6 519.5 537.5M530.6 544.0 536.0 538.6 538.7 538.6 534.9 544.6 530.6 544.0M507.4 509.9 507.2 510.7 506.8 511.2 506.2 511.2 505.7 510.7 505.5 509.9 505.7 509.0 506.2 508.5 506.8 508.5 507.2 509.0 507.4 509.9M514.3 516.1 514.0 516.9 513.2 517.4 512.3 517.4 511.5 516.9 511.2 516.1 511.5 515.4 512.3 514.9 513.2 514.9 514.0 515.4 514.3 516.1M524.4 515.8 524.1 516.3 523.6 516.3 523.3 515.8 523.6 515.4 524.1 515.4 524.4 515.8M514.9 551.9 514.6 552.8 513.7 553.3 512.7 553.3 511.8 552.8 511.5 551.9 511.8 551.0 512.7 550.4 513.7 550.4 514.6 551.0 514.9 551.9M531.2 553.8 530.9 554.3 530.0 554.5 528.9 554.5 528.1 554.3 527.7 553.8 528.1 553.4 528.9 553.1 530.0 553.1 530.9 553.4 531.2 553.8M480.9 486.2 480.7 486.5 480.4 486.4 480.4 486.0 480.7 485.9 480.9 486.2M484.9 492.3 484.6 492.6 484.3 492.5 484.3 492.1 484.6 492.0 484.9 492.3M1073.9 278.3 1072.6 281.0 1069.3 282.6 1065.1 282.6 1061.7 281.0 1060.4 278.3 1061.7 275.7 1065.1 274.0 1069.3 274.0 1072.6 275.7 1073.9 278.3M1089.3 286.7 1098.4 284.5 1113.1 283.8 1113.1 285.6 1098.4 286.9 1089.3 286.7M992.1 253.9 991.5 254.9 990.4 254.9 989.8 253.9 990.4 252.9 991.5 252.9 992.1 253.9M1013.6 258.9 1012.9 260.0 1011.3 260.5 1009.7 260.0 1009.0 258.9 1009.7 257.8 1011.3 257.3 1012.9 257.8 1013.6 258.9M1024.9 259.3 1024.3 260.1 1023.2 260.1 1022.6 259.3 1023.2 258.6 1024.3 258.6 1024.9 259.3M1056.8 258.4 1056.1 259.2 1054.7 259.2 1054.0 258.4 1054.7 257.7 1056.1 257.7 1056.8 258.4M1043.0 278.8 1042.3 279.8 1040.7 280.2 1039.1 279.8 1038.4 278.8 1039.1 277.8 1040.7 277.4 1042.3 277.8 1043.0 278.8M704.4 224.5 704.0 225.2 703.2 224.9 703.2 224.1 704.0 223.9 704.4 224.5M697.6 242.6 697.2 243.5 696.4 243.1 696.4 242.1 697.2 241.8 697.6 242.6M699.4 433.7 699.0 434.3 698.2 434.1 698.2 433.3 699.0 433.1 699.4 433.7M771.1 457.0 770.7 457.6 769.9 457.4 769.9 456.6 770.7 456.4 771.1 457.0M863.1 1503.4 862.3 1502.5 862.8 1499.8 863.4 1498.5 864.1 1498.0 864.3 1500.0 864.0 1502.3 863.1 1503.4M858.2 1493.9 857.2 1490.7 858.7 1486.1 860.6 1488.3 861.1 1492.1 858.2 1493.9M862.8 1499.9 862.4 1498.6 863.7 1498.2 864.6 1498.7 865.1 1500.0 863.8 1500.7 862.8 1499.9M855.8 1510.9 854.3 1510.3 853.7 1508.8 853.4 1506.8 855.3 1506.8 856.8 1506.9 857.8 1508.4 857.2 1510.1 855.8 1510.9M855.9 1503.1 855.0 1504.2 854.2 1503.6 853.4 1502.7 854.3 1501.2 855.6 1500.9 856.7 1501.6 855.9 1503.1M855.3 1501.3 853.2 1499.0 853.3 1495.7 855.4 1496.2 857.0 1498.6 855.3 1501.3M846.5 1509.4 845.4 1509.4 844.5 1507.0 844.4 1505.1 845.3 1504.9 846.8 1505.8 847.0 1508.4 846.5 1509.4M860.8 1501.1 859.7 1499.6 858.9 1496.2 859.4 1494.3 860.1 1494.0 860.9 1496.1 861.5 1499.4 860.8 1501.1M862.0 1522.9 860.8 1522.8 859.9 1522.4 859.5 1521.6 859.5 1520.6 860.4 1520.1 861.4 1520.8 861.7 1521.7 862.0 1522.9M844.1 1516.7 842.6 1516.1 841.6 1514.3 842.0 1512.3 843.4 1511.7 845.4 1511.1 845.9 1513.7 845.2 1515.4 844.1 1516.7M861.2 1510.2 862.3 1508.6 864.9 1508.6 865.6 1510.7 862.5 1512.3 861.2 1510.2M854.7 1508.3 855.3 1507.3 856.0 1506.9 856.9 1507.0 857.3 1508.1 857.4 1509.6 856.2 1509.6 855.5 1509.1 854.7 1508.3M854.0 1519.4 853.1 1521.1 851.6 1521.2 850.9 1519.9 851.0 1518.4 852.0 1517.8 853.3 1517.7 854.0 1519.4M849.1 1505.8 849.4 1504.1 851.3 1502.9 852.5 1503.6 852.5 1504.9 850.9 1505.9 849.1 1505.8M865.4 1492.4 864.5 1491.4 865.3 1489.6 867.0 1488.8 867.7 1490.0 867.5 1491.3 866.5 1492.2 865.4 1492.4M860.2 1497.6 860.9 1495.4 861.9 1493.6 864.3 1492.9 865.1 1494.9 865.7 1496.5 864.6 1498.5 862.6 1498.0 860.2 1497.6M852.0 1518.2 852.4 1517.4 854.6 1517.1 856.2 1517.0 858.3 1517.2 856.2 1518.0 854.9 1518.8 852.9 1518.8 852.0 1518.2M850.3 1509.8 851.7 1508.4 853.7 1508.1 856.4 1508.6 854.8 1510.6 851.9 1511.0 850.3 1509.8M856.7 1521.0 855.0 1522.0 852.0 1520.8 851.6 1518.3 852.5 1516.4 855.4 1516.5 856.5 1519.1 856.7 1521.0M846.2 1513.5 844.2 1511.9 845.0 1509.4 846.5 1507.8 848.1 1509.5 847.7 1511.6 846.2 1513.5M860.4 1518.8 858.9 1517.4 858.9 1515.3 860.3 1513.6 862.5 1513.8 862.5 1516.1 862.1 1517.6 860.4 1518.8M863.3 1491.9 864.4 1490.6 867.0 1490.1 867.4 1491.0 865.0 1492.3 863.3 1491.9M843.6 1540.3 842.3 1537.9 843.9 1536.3 845.7 1535.6 847.4 1536.9 847.6 1538.9 846.1 1540.0 843.6 1540.3M847.2 1548.0 845.6 1548.8 844.1 1548.0 844.0 1546.7 845.0 1546.1 846.5 1546.5 847.2 1548.0M852.5 1555.9 852.2 1554.5 853.9 1551.5 855.4 1550.8 855.3 1552.7 853.8 1555.3 852.5 1555.9M858.8 1553.5 857.6 1554.6 855.4 1555.3 854.4 1553.8 853.4 1552.3 855.8 1552.0 858.3 1551.9 858.8 1553.5M853.4 1529.1 853.9 1527.4 855.5 1525.1 857.7 1523.9 859.1 1523.6 858.9 1525.0 857.3 1526.9 855.4 1528.2 853.4 1529.1M842.3 1530.3 839.4 1531.3 839.7 1529.0 841.5 1526.6 842.7 1528.1 842.3 1530.3M839.9 1554.8 840.9 1553.5 842.1 1552.2 844.0 1552.8 844.5 1554.8 842.8 1555.7 841.3 1555.7 839.9 1554.8M836.2 1557.2 834.9 1556.7 834.2 1553.7 835.5 1553.3 836.4 1554.1 837.1 1556.1 836.2 1557.2M837.8 1559.7 837.0 1558.6 836.9 1557.1 838.1 1555.9 839.4 1556.7 840.0 1557.6 839.9 1558.7 839.0 1559.4 837.8 1559.7M832.6 1552.2 832.7 1549.7 834.3 1549.2 835.0 1552.0 834.2 1553.8 833.0 1554.7 832.6 1552.2M845.0 1538.4 845.3 1535.4 847.8 1532.4 849.3 1533.9 848.2 1538.0 845.0 1538.4M838.5 1558.6 836.8 1559.3 836.0 1558.3 836.2 1556.9 837.8 1555.3 839.4 1556.0 840.5 1557.2 838.5 1558.6M844.2 1523.1 842.8 1523.0 841.8 1522.2 842.5 1520.9 844.2 1520.1 845.6 1520.8 845.7 1522.3 844.2 1523.1M845.0 1556.2 843.5 1558.6 841.3 1557.6 841.8 1554.6 843.9 1552.7 846.0 1553.7 845.0 1556.2M848.4 1527.2 848.3 1525.4 849.7 1523.5 852.5 1524.3 852.0 1527.0 850.1 1528.5 848.4 1527.2M864.7 1529.1 863.3 1529.1 861.8 1527.8 860.8 1526.2 860.8 1524.9 862.3 1525.5 863.8 1525.9 864.3 1527.5 864.7 1529.1M854.7 1528.0 854.8 1526.7 855.9 1525.0 857.7 1523.4 859.2 1523.2 859.0 1524.7 857.7 1526.7 856.1 1527.4 854.7 1528.0M855.6 1531.7 854.7 1529.4 855.9 1525.3 857.2 1527.0 857.1 1529.7 855.6 1531.7M839.0 1538.8 838.9 1537.3 839.9 1536.0 841.4 1536.6 841.4 1538.0 840.5 1539.4 839.0 1538.8M821.6 1553.9 822.8 1551.7 825.1 1551.5 826.3 1554.8 823.7 1555.4 821.6 1553.9M843.4 1554.3 841.7 1554.3 839.2 1554.1 837.8 1551.5 838.5 1549.9 840.0 1548.9 842.3 1550.6 843.6 1552.6 843.4 1554.3M855.4 1529.1 853.6 1528.7 853.4 1526.6 854.1 1525.3 855.5 1525.8 856.7 1527.7 855.4 1529.1M841.9 1582.3 840.8 1583.6 838.2 1582.6 839.0 1581.2 841.4 1580.6 841.9 1582.3M843.4 1580.2 840.5 1578.0 840.2 1573.7 843.5 1572.9 845.0 1576.9 843.4 1580.2M847.9 1590.7 847.3 1589.0 849.4 1586.8 851.3 1586.6 852.5 1587.2 851.5 1589.1 849.7 1590.5 847.9 1590.7M829.7 1588.0 828.7 1588.1 828.7 1586.4 828.7 1584.9 829.5 1583.8 830.5 1584.7 830.9 1586.3 830.5 1587.7 829.7 1588.0M839.1 1589.4 837.2 1589.6 834.6 1587.7 836.0 1586.8 838.1 1587.8 839.1 1589.4M840.1 1595.0 837.8 1594.2 836.1 1591.4 836.8 1590.0 839.6 1592.6 840.1 1595.0M823.1 1588.6 821.5 1588.7 819.9 1588.4 820.1 1587.0 822.3 1586.4 824.0 1585.9 825.4 1586.3 825.1 1587.7 823.1 1588.6M832.3 1596.2 832.8 1594.5 833.5 1593.9 834.3 1594.3 835.2 1595.6 835.3 1597.6 834.6 1599.0 833.4 1598.1 832.3 1596.2M828.3 1582.6 827.6 1584.5 824.9 1583.9 824.4 1582.1 825.6 1581.0 827.5 1581.1 828.3 1582.6M828.6 1583.5 828.0 1582.8 827.9 1581.4 828.8 1581.3 829.4 1581.7 829.4 1583.0 828.6 1583.5M830.5 1596.4 828.9 1596.9 826.1 1594.7 826.8 1593.0 828.4 1592.9 831.5 1594.8 830.5 1596.4M849.9 1586.7 848.9 1587.0 848.0 1586.2 847.7 1584.9 848.8 1584.3 850.1 1583.8 851.1 1584.9 850.9 1586.3 849.9 1586.7M823.6 1565.7 821.5 1567.3 820.7 1565.3 820.8 1563.3 823.0 1562.3 824.9 1563.5 823.6 1565.7M821.5 1575.7 821.5 1573.3 823.1 1574.4 823.4 1576.1 822.6 1576.9 821.5 1575.7M820.4 1572.1 822.1 1570.5 825.7 1569.7 827.5 1572.1 824.8 1573.4 821.6 1574.2 820.4 1572.1M842.4 1574.0 842.1 1574.9 840.4 1575.4 839.1 1574.5 838.9 1573.4 840.5 1573.0 842.4 1573.0 842.4 1574.0M828.0 1569.9 827.0 1571.0 825.6 1571.5 826.0 1569.8 826.1 1568.6 827.3 1567.2 828.6 1567.3 828.3 1568.8 828.0 1569.9M850.4 1564.7 850.7 1563.2 852.3 1560.5 854.1 1560.4 855.8 1560.2 854.4 1562.7 851.7 1565.3 850.4 1564.7M828.0 1569.6 828.9 1567.6 831.8 1567.6 832.9 1570.5 829.3 1572.3 828.0 1569.6M843.4 1575.2 843.1 1573.3 845.6 1573.4 847.4 1574.3 846.1 1575.9 844.3 1576.3 843.4 1575.2M835.3 1595.6 834.2 1593.8 834.0 1591.9 834.5 1590.3 835.6 1588.6 836.8 1589.9 838.0 1592.0 837.1 1594.8 835.3 1595.6M841.5 1598.8 841.0 1598.4 840.5 1597.7 840.6 1596.6 841.5 1596.6 842.2 1596.8 842.7 1597.7 842.3 1598.8 841.5 1598.8M844.0 1622.9 843.0 1623.1 842.0 1622.3 841.7 1621.2 842.1 1619.8 843.6 1620.5 844.4 1621.9 844.0 1622.9M814.4 1613.2 815.5 1611.6 816.3 1610.4 818.1 1609.3 819.4 1609.7 819.4 1611.1 817.5 1612.1 816.2 1612.9 814.4 1613.2M840.9 1600.8 842.4 1599.2 845.0 1597.9 848.1 1598.2 848.3 1600.1 845.4 1601.2 842.4 1602.1 840.9 1600.8M841.6 1619.8 841.4 1621.1 840.2 1621.4 839.4 1620.2 839.6 1618.7 840.7 1618.3 841.6 1618.7 841.6 1619.8M850.3 1616.9 849.1 1616.8 848.4 1616.1 848.9 1615.1 850.2 1615.1 851.2 1615.3 852.2 1615.9 851.5 1616.7 850.3 1616.9M840.2 1609.1 839.8 1607.1 839.6 1604.4 841.0 1601.7 842.3 1602.3 842.3 1605.2 841.5 1608.0 840.2 1609.1M839.8 1627.9 838.9 1628.3 837.9 1628.1 836.9 1627.5 837.1 1626.6 838.3 1626.2 839.2 1627.1 839.8 1627.9M841.7 1619.3 839.7 1618.1 838.2 1616.5 837.9 1614.6 839.7 1614.9 840.9 1617.2 841.7 1619.3M821.0 1602.9 821.0 1604.3 817.9 1604.3 814.8 1603.4 814.3 1601.8 815.4 1600.4 818.6 1600.6 821.3 1601.6 821.0 1602.9M832.5 1603.8 833.7 1602.9 835.8 1602.5 837.8 1602.8 836.6 1604.0 834.0 1604.1 832.5 1603.8M826.8 1616.5 825.9 1618.1 824.9 1618.1 824.3 1617.3 824.5 1615.6 825.5 1614.3 826.6 1613.6 827.0 1614.9 826.8 1616.5M854.0 1612.1 852.2 1612.5 850.4 1611.1 849.8 1609.6 849.6 1608.2 851.0 1607.8 852.9 1608.4 853.8 1610.3 854.0 1612.1M852.3 1617.9 849.9 1618.8 850.0 1616.9 852.5 1614.7 853.5 1616.3 852.3 1617.9M819.8 1628.0 818.6 1629.5 816.0 1628.7 814.6 1626.6 814.8 1624.4 816.9 1624.3 819.2 1624.1 820.5 1626.3 819.8 1628.0M840.6 1607.4 838.1 1607.2 838.2 1604.5 839.0 1602.7 841.0 1602.1 842.4 1603.9 841.8 1605.7 840.6 1607.4M841.7 1603.3 843.8 1601.0 847.0 1599.3 848.2 1601.1 848.5 1603.3 844.3 1604.9 841.7 1603.3M836.2 1614.2 834.0 1614.4 832.2 1613.5 831.3 1611.6 832.2 1610.2 833.7 1609.4 835.2 1610.5 836.1 1612.0 836.2 1614.2M819.8 1620.2 818.0 1620.5 817.2 1619.0 817.2 1617.6 818.2 1616.4 819.7 1617.2 820.3 1618.6 819.8 1620.2M836.3 1598.9 835.5 1599.5 833.1 1599.3 831.5 1598.5 831.8 1597.8 833.6 1597.8 835.6 1598.2 836.3 1598.9M847.5 1623.6 846.1 1622.6 845.8 1621.2 847.1 1621.0 848.7 1622.1 849.6 1623.3 849.4 1624.0 849.0 1624.7 847.5 1623.6M837.9 1615.4 837.5 1613.9 840.0 1613.7 842.0 1613.3 842.9 1614.4 842.1 1615.5 840.5 1616.1 838.2 1616.7 837.9 1615.4M835.1 1600.1 833.0 1599.3 831.1 1598.3 829.4 1596.8 829.5 1596.0 829.6 1594.9 832.4 1596.5 834.5 1598.6 835.1 1600.1M821.8 1633.4 820.4 1632.6 822.5 1630.6 824.2 1629.0 825.2 1629.9 826.5 1630.7 825.1 1633.1 822.7 1634.7 821.8 1633.4M852.5 1639.3 850.9 1637.9 852.2 1635.2 854.3 1635.3 856.0 1635.6 855.5 1637.7 854.4 1640.2 852.5 1639.3M852.6 1660.8 851.4 1661.8 849.7 1662.6 849.5 1661.0 850.1 1659.0 851.7 1657.7 853.4 1657.3 853.4 1659.1 852.6 1660.8M830.8 1665.6 831.2 1663.2 832.7 1660.8 834.9 1659.6 835.5 1661.0 834.7 1662.8 833.1 1664.4 830.8 1665.6M856.0 1651.8 853.6 1653.6 849.5 1653.3 847.6 1651.0 850.6 1649.9 854.0 1649.7 856.0 1651.8M828.9 1645.6 828.0 1646.9 826.1 1646.9 824.5 1645.9 822.5 1644.2 824.2 1642.4 827.0 1642.4 829.6 1643.5 828.9 1645.6M846.4 1653.3 846.3 1652.3 847.2 1651.5 848.2 1651.6 848.7 1652.7 847.4 1653.3 846.4 1653.3M825.5 1664.0 824.2 1662.1 823.4 1660.1 824.2 1657.9 826.0 1657.2 826.9 1659.8 827.1 1662.7 825.5 1664.0M846.6 1650.3 847.4 1648.7 850.2 1647.1 852.7 1646.4 850.8 1648.4 848.5 1650.0 846.6 1650.3M828.5 1637.6 827.4 1635.3 826.8 1632.5 829.2 1630.2 831.1 1632.1 831.6 1634.3 831.2 1637.5 828.5 1637.6M843.9 1659.8 842.3 1660.7 839.3 1660.0 836.3 1658.3 838.4 1657.3 840.4 1656.2 842.5 1658.2 843.9 1659.8M847.5 1640.3 845.3 1637.9 843.7 1635.0 844.4 1632.5 846.7 1633.8 847.4 1636.9 847.5 1640.3M838.0 1654.5 836.9 1653.6 836.7 1650.6 838.3 1648.5 839.4 1649.5 840.1 1651.3 839.6 1654.7 838.0 1654.5M846.7 1638.0 846.4 1635.5 848.6 1634.6 850.4 1636.1 850.2 1638.1 848.7 1638.8 846.7 1638.0M852.7 1666.1 849.9 1666.8 847.4 1664.6 848.5 1662.1 852.1 1663.2 852.7 1666.1M849.5 1638.8 849.3 1637.9 851.3 1636.5 854.1 1636.0 855.2 1636.7 854.8 1637.9 852.3 1639.2 850.3 1639.3 849.5 1638.8M843.7 1655.7 841.4 1654.8 840.1 1652.6 840.1 1649.9 842.1 1648.7 844.2 1649.4 844.9 1651.6 844.7 1653.4 843.7 1655.7M837.3 1634.6 837.6 1632.3 839.5 1631.7 840.7 1633.5 840.6 1635.3 839.0 1635.9 837.3 1634.6M845.6 1654.6 843.2 1655.2 840.9 1654.5 839.2 1652.1 841.6 1651.0 843.6 1650.2 844.9 1652.2 845.6 1654.6M823.6 1664.3 823.1 1662.6 823.6 1660.0 824.9 1658.7 825.4 1660.6 824.8 1662.9 823.6 1664.3M849.4 1666.4 850.0 1663.6 853.0 1661.6 853.8 1663.3 852.1 1665.7 849.4 1666.4M850.5 1632.0 849.7 1630.6 850.8 1628.1 853.1 1625.6 855.1 1626.8 854.6 1630.1 852.2 1633.2 850.5 1632.0M856.4 1680.0 857.2 1678.3 860.0 1676.4 862.9 1675.1 861.0 1677.5 858.2 1679.7 856.4 1680.0M841.4 1701.4 840.5 1699.7 840.7 1697.1 842.2 1696.8 843.4 1697.6 843.0 1700.2 841.4 1701.4M847.1 1703.3 846.7 1701.6 847.9 1700.0 849.9 1700.1 851.3 1701.6 850.7 1703.8 848.7 1704.3 847.1 1703.3M840.8 1703.2 841.0 1701.2 842.0 1700.6 843.3 1702.5 843.0 1704.3 842.1 1704.4 840.8 1703.2M843.8 1680.0 842.3 1680.6 840.1 1681.2 838.9 1679.1 840.0 1677.5 841.0 1675.6 843.2 1676.5 844.7 1678.2 843.8 1680.0M839.8 1696.8 837.3 1697.9 834.7 1695.7 833.9 1692.6 837.1 1692.2 839.3 1694.3 839.8 1696.8M857.3 1672.8 856.4 1671.2 856.2 1669.2 856.7 1667.5 857.8 1668.6 857.7 1671.0 857.3 1672.8M839.4 1683.1 838.2 1683.1 838.2 1680.9 837.9 1679.1 838.9 1678.2 839.8 1679.5 840.7 1680.6 840.5 1682.6 839.4 1683.1M860.1 1698.2 858.3 1697.7 858.2 1693.6 859.8 1692.1 861.7 1693.1 861.4 1697.2 860.1 1698.2M847.6 1686.0 846.8 1685.1 846.0 1683.6 845.9 1681.5 846.4 1680.3 847.4 1681.3 848.6 1683.1 848.7 1685.9 847.6 1686.0M857.8 1675.7 857.3 1676.5 855.5 1675.0 853.6 1673.5 854.9 1673.1 856.4 1673.4 857.9 1674.8 857.8 1675.7M851.5 1685.6 851.5 1684.8 852.2 1683.9 853.4 1683.5 854.0 1684.0 854.0 1684.8 853.3 1685.6 852.2 1686.0 851.5 1685.6M843.6 1690.8 842.1 1690.4 842.1 1689.1 843.2 1687.6 845.5 1688.2 845.5 1690.2 843.6 1690.8M837.3 1686.1 835.8 1685.9 834.2 1684.7 832.8 1682.6 834.1 1681.4 836.6 1681.9 838.0 1684.6 837.3 1686.1M835.8 1691.7 836.0 1690.0 836.3 1688.3 837.9 1686.5 839.9 1685.9 840.4 1687.7 838.8 1690.1 837.2 1691.6 835.8 1691.7M839.2 1673.0 838.5 1674.1 836.2 1673.7 836.4 1672.1 838.4 1672.1 839.2 1673.0M844.5 1673.4 842.7 1672.2 842.1 1670.4 843.8 1669.1 845.3 1670.2 846.1 1671.9 844.5 1673.4M840.9 1678.9 842.6 1676.8 844.6 1676.6 846.0 1678.5 843.5 1680.5 840.9 1678.9M846.1 1668.9 847.0 1667.7 848.4 1666.2 850.9 1665.6 851.8 1666.2 850.9 1667.3 849.6 1668.8 847.8 1668.7 846.1 1668.9M862.7 1696.5 862.9 1694.5 864.8 1692.5 866.8 1691.8 867.7 1692.3 869.2 1693.2 867.1 1695.3 864.7 1696.8 862.7 1696.5M841.2 1683.6 839.2 1682.0 840.8 1678.6 842.5 1676.6 844.3 1677.2 845.3 1679.8 843.3 1682.2 841.2 1683.6M842.7 1685.8 841.2 1686.0 839.0 1684.9 839.9 1683.1 842.1 1684.3 842.7 1685.8M869.4 1730.8 867.2 1729.0 868.1 1726.2 871.0 1725.7 871.9 1729.1 869.4 1730.8M880.0 1718.1 879.8 1717.0 879.8 1716.0 881.0 1715.7 882.1 1716.6 882.1 1717.7 881.2 1718.1 880.0 1718.1M864.0 1710.5 862.2 1710.8 861.4 1709.6 862.1 1707.6 864.4 1707.6 865.5 1708.9 864.0 1710.5M861.6 1709.3 862.5 1708.7 863.7 1708.4 864.4 1709.0 864.6 1709.6 863.6 1709.9 862.6 1709.9 861.6 1709.3M877.8 1704.9 875.5 1703.9 876.3 1702.3 878.5 1701.4 880.7 1703.1 880.4 1705.0 877.8 1704.9M882.4 1715.8 881.5 1716.2 880.6 1715.4 881.2 1714.1 882.6 1714.6 882.4 1715.8M861.3 1728.5 862.6 1726.1 866.8 1725.8 868.0 1728.4 863.6 1730.1 861.3 1728.5M863.7 1707.4 863.9 1704.5 865.8 1704.5 866.0 1707.4 865.8 1709.7 864.4 1709.0 863.7 1707.4M879.3 1715.7 878.8 1714.5 878.9 1712.6 880.9 1711.5 882.7 1712.6 882.7 1714.4 882.3 1716.2 880.4 1717.2 879.3 1715.7M862.0 1699.6 860.9 1699.0 860.7 1696.8 861.8 1695.7 862.8 1697.0 863.1 1698.9 862.0 1699.6M879.0 1713.2 879.4 1710.7 880.0 1708.4 881.1 1707.1 882.4 1706.0 881.9 1708.9 880.5 1711.8 879.0 1713.2M867.7 1708.7 866.6 1707.1 868.3 1704.3 870.1 1703.0 871.4 1704.8 869.6 1708.0 867.7 1708.7M860.1 1702.8 859.7 1702.0 859.7 1700.7 860.4 1699.8 861.3 1699.5 861.1 1701.1 861.0 1702.8 860.1 1702.8M846.2 1713.8 845.1 1713.8 844.5 1710.9 845.4 1709.1 846.4 1709.3 847.0 1711.0 847.0 1713.1 846.2 1713.8M863.7 1706.6 865.0 1705.1 866.4 1704.0 867.0 1706.4 866.4 1708.1 865.2 1708.0 863.7 1706.6M871.2 1719.2 871.6 1717.9 873.0 1716.9 874.1 1718.4 873.5 1719.8 872.2 1720.1 871.2 1719.2M858.0 1723.1 857.4 1720.9 860.1 1718.2 863.2 1718.3 862.9 1721.4 860.2 1723.3 858.0 1723.1M852.4 1707.9 851.8 1709.9 849.5 1710.0 848.4 1708.2 849.2 1706.7 850.3 1704.9 852.1 1706.2 852.4 1707.9M880.2 1715.2 877.9 1715.2 876.8 1713.7 878.9 1712.3 881.5 1711.6 882.3 1713.4 880.2 1715.2M858.6 1698.5 858.3 1696.4 859.8 1696.0 860.9 1696.5 862.3 1697.4 861.9 1699.2 860.8 1699.6 859.5 1700.3 858.6 1698.5M865.6 1697.0 864.5 1698.6 863.7 1697.6 863.5 1696.6 863.9 1695.0 865.2 1695.0 865.7 1695.8 865.6 1697.0M868.9 1715.9 866.3 1716.6 864.4 1715.4 864.7 1713.2 867.6 1713.3 868.9 1715.9M890.0 1717.9 889.2 1717.1 889.8 1714.7 891.0 1714.6 891.9 1715.3 891.2 1717.9 890.0 1717.9M889.9 1729.8 887.4 1727.5 887.0 1724.2 888.7 1723.4 890.5 1726.5 889.9 1729.8M896.2 1746.7 897.4 1744.0 901.1 1742.4 901.9 1745.1 899.1 1748.3 896.2 1746.7M903.0 1721.4 901.9 1721.0 901.3 1720.2 901.3 1718.7 902.8 1718.9 903.8 1720.3 903.0 1721.4M893.6 1740.5 891.3 1742.4 888.1 1742.6 885.4 1740.9 887.1 1739.0 888.9 1738.2 891.1 1738.7 893.6 1740.5M882.0 1715.5 881.0 1715.7 880.2 1714.6 881.0 1713.7 882.0 1713.9 882.6 1714.8 882.0 1715.5M897.7 1722.6 896.8 1722.5 895.8 1722.2 895.4 1721.0 896.0 1720.4 896.7 1720.2 897.7 1720.7 897.8 1721.7 897.7 1722.6M887.7 1731.1 886.0 1731.4 884.8 1730.7 884.6 1729.3 885.3 1727.7 887.1 1727.4 888.7 1727.9 888.1 1729.6 887.7 1731.1M880.6 1739.3 879.4 1738.1 879.2 1737.0 880.0 1736.1 881.4 1735.6 882.5 1736.8 881.9 1738.2 880.6 1739.3M891.2 1735.9 892.1 1733.2 894.8 1730.4 896.7 1730.8 896.7 1732.8 894.1 1734.6 891.2 1735.9M882.0 1728.6 881.3 1730.3 879.7 1730.6 878.5 1729.5 878.8 1727.6 879.9 1726.6 881.2 1726.0 882.3 1726.9 882.0 1728.6M877.6 1723.0 879.0 1721.3 881.9 1719.7 884.4 1719.0 884.8 1719.8 883.1 1721.6 880.2 1722.5 877.6 1723.0M885.0 1730.9 884.9 1729.8 885.6 1728.5 887.2 1727.6 888.1 1728.4 888.2 1729.5 887.3 1730.6 885.9 1731.7 885.0 1730.9M880.0 1742.6 878.5 1742.4 877.5 1740.2 876.7 1738.7 876.5 1736.8 878.0 1737.9 879.4 1739.1 879.8 1740.8 880.0 1742.6M895.3 1733.3 893.5 1733.1 892.6 1730.8 892.0 1727.8 893.8 1726.7 895.6 1727.7 896.2 1730.0 896.5 1732.1 895.3 1733.3M884.2 1730.3 884.3 1728.2 886.4 1726.9 888.5 1727.9 889.6 1729.7 889.1 1731.8 886.9 1731.9 885.2 1731.8 884.2 1730.3M892.5 1718.4 891.9 1717.3 892.5 1715.4 894.0 1714.4 894.7 1715.3 894.5 1716.6 893.7 1717.8 892.5 1718.4M890.0 1731.6 889.0 1730.3 890.5 1728.7 891.4 1729.6 891.4 1731.1 890.0 1731.6M902.9 1732.4 900.9 1731.2 899.6 1728.5 900.1 1727.6 902.3 1730.1 902.9 1732.4M881.0 1732.7 879.9 1731.2 879.0 1729.5 880.2 1727.9 882.1 1728.4 883.3 1729.2 885.0 1730.9 883.1 1732.3 881.0 1732.7M889.2 1729.8 888.5 1728.3 889.5 1726.2 891.2 1725.5 893.1 1725.5 893.1 1728.2 890.9 1730.9 889.2 1729.8M885.9 1716.2 885.1 1716.5 883.1 1715.0 881.6 1713.5 881.8 1712.8 882.8 1713.1 884.3 1713.5 885.9 1715.3 885.9 1716.2M908.7 1756.3 908.8 1753.7 908.6 1751.8 909.9 1749.5 911.2 1749.0 911.7 1750.5 911.3 1752.7 910.3 1755.1 908.7 1756.3M901.3 1749.6 899.9 1748.7 899.6 1747.2 900.9 1747.0 901.9 1748.0 901.3 1749.6M916.4 1741.7 916.5 1740.7 917.2 1740.0 918.1 1740.1 918.6 1740.8 918.1 1741.6 917.3 1741.8 916.4 1741.7M932.4 1744.6 931.5 1743.7 931.5 1742.1 932.8 1742.0 933.6 1742.6 933.4 1743.9 932.4 1744.6M916.0 1749.0 914.8 1748.2 914.8 1745.8 915.6 1743.8 916.7 1745.6 917.4 1748.3 916.0 1749.0M925.9 1744.2 923.8 1744.3 922.2 1743.0 923.9 1740.9 926.2 1741.7 925.9 1744.2M901.5 1745.5 901.6 1744.3 902.4 1743.3 903.6 1742.7 903.3 1744.1 902.7 1745.5 901.5 1745.5M928.9 1755.3 928.3 1757.1 926.9 1756.6 926.1 1755.4 926.3 1753.3 928.0 1752.5 929.5 1753.3 928.9 1755.3M934.2 1743.4 934.6 1741.9 934.9 1740.6 936.0 1739.9 937.0 1739.9 936.3 1741.6 935.4 1743.2 934.2 1743.4M910.7 1735.2 908.5 1736.0 907.6 1734.1 908.9 1732.0 910.6 1733.2 910.7 1735.2M926.9 1752.2 924.7 1750.4 925.8 1747.8 928.0 1746.7 930.2 1748.3 929.2 1751.0 926.9 1752.2M904.4 1747.4 901.2 1748.4 898.4 1747.2 898.2 1745.8 901.7 1745.5 904.4 1747.4M909.0 1753.0 910.1 1751.6 912.3 1750.6 913.1 1753.0 912.3 1755.4 909.7 1755.2 909.0 1753.0M927.4 1756.2 925.9 1757.4 922.8 1757.3 922.7 1755.4 923.5 1753.8 926.0 1754.9 927.4 1756.2M922.0 1754.9 923.0 1753.5 924.4 1753.5 925.5 1754.6 924.9 1756.2 923.3 1756.1 922.0 1754.9M919.4 1734.8 917.7 1735.9 916.0 1733.6 915.4 1731.1 917.9 1730.7 919.6 1733.1 919.4 1734.8M928.0 1750.5 926.6 1751.2 925.3 1751.8 924.4 1750.7 924.6 1749.1 925.4 1747.7 927.0 1747.5 927.4 1749.1 928.0 1750.5M915.6 1739.6 914.7 1739.6 913.3 1738.4 914.0 1737.6 914.9 1737.5 916.0 1738.7 915.6 1739.6M911.9 1743.5 911.7 1742.2 912.6 1741.3 913.6 1742.2 913.7 1743.4 913.7 1744.6 912.9 1745.1 912.1 1744.5 911.9 1743.5M925.0 1737.4 924.8 1734.8 924.8 1732.0 926.8 1731.4 928.5 1731.3 928.2 1733.8 927.1 1736.2 925.0 1737.4M938.8 1753.0 936.4 1753.8 933.9 1753.1 931.1 1751.6 932.6 1750.1 934.9 1749.7 937.7 1750.8 938.8 1753.0M912.1 1753.4 911.5 1752.6 911.7 1751.1 912.2 1749.9 912.9 1749.9 913.3 1750.3 913.5 1751.5 912.8 1752.3 912.1 1753.4M966.7 1751.7 964.0 1753.5 962.2 1751.7 962.8 1749.1 965.0 1749.3 966.7 1751.7M960.7 1763.7 958.8 1764.3 956.4 1763.3 956.6 1762.1 959.4 1762.2 960.7 1763.7M966.6 1767.3 965.4 1766.8 964.9 1765.6 965.5 1764.5 966.6 1764.3 967.6 1765.1 967.6 1766.5 966.6 1767.3M940.4 1752.4 941.2 1751.0 942.8 1749.6 945.1 1748.5 945.1 1749.7 944.0 1751.2 942.0 1752.1 940.4 1752.4M947.1 1763.7 946.9 1762.8 946.8 1762.0 947.5 1761.5 948.6 1761.4 948.8 1762.4 948.6 1763.2 948.1 1763.7 947.1 1763.7M944.5 1751.1 945.9 1748.4 948.1 1746.4 950.4 1745.2 949.4 1747.4 947.1 1749.9 944.5 1751.1M958.6 1754.0 957.6 1751.6 958.1 1748.2 959.2 1749.1 959.7 1751.6 958.6 1754.0M950.8 1763.1 952.8 1760.7 957.2 1761.1 958.3 1763.7 953.6 1764.3 950.8 1763.1M956.9 1749.1 955.2 1748.1 954.6 1745.9 956.8 1745.7 958.1 1747.3 956.9 1749.1M959.6 1757.8 961.6 1754.4 965.4 1754.3 967.2 1756.0 963.4 1758.0 959.6 1757.8M966.3 1764.7 964.8 1762.9 963.5 1760.9 963.6 1759.3 964.0 1758.2 965.6 1760.0 966.0 1762.5 966.3 1764.7M971.2 1763.6 970.6 1763.3 970.1 1762.4 969.8 1761.0 970.8 1760.9 971.6 1760.9 972.0 1762.1 972.1 1763.5 971.2 1763.6M950.1 1751.0 950.9 1748.0 951.6 1745.9 953.4 1745.0 955.0 1745.2 954.9 1747.8 952.5 1750.4 950.1 1751.0M940.8 1748.6 938.7 1747.6 937.5 1745.3 937.6 1743.2 938.0 1740.7 940.1 1741.9 941.2 1744.0 941.6 1746.4 940.8 1748.6M947.9 1747.7 947.9 1746.7 949.2 1745.0 951.1 1744.8 952.1 1745.0 952.1 1746.0 950.6 1747.2 949.0 1747.9 947.9 1747.7M971.6 1761.8 970.5 1763.0 968.6 1762.5 966.8 1761.3 966.8 1759.5 968.0 1757.9 970.6 1758.2 971.1 1760.4 971.6 1761.8M955.4 1764.5 954.5 1761.7 956.5 1758.0 959.5 1759.2 958.6 1764.0 955.4 1764.5M963.1 1756.4 961.2 1755.1 961.4 1752.0 963.2 1751.2 965.0 1752.1 964.9 1755.0 963.1 1756.4M975.3 1760.5 974.4 1760.8 972.7 1760.2 972.2 1758.5 973.2 1757.9 974.6 1758.3 976.0 1759.6 975.3 1760.5M972.3 1761.6 971.0 1762.3 969.3 1762.4 969.8 1760.5 971.3 1759.4 972.7 1759.2 973.3 1760.2 972.3 1761.6M969.4 1764.7 970.4 1762.1 972.1 1760.7 974.0 1761.2 975.0 1762.6 974.2 1764.5 971.9 1765.9 969.4 1764.7M944.1 1751.8 943.9 1749.6 946.2 1749.2 947.0 1751.8 945.5 1752.7 944.1 1751.8M992.3 1771.9 990.4 1772.2 989.1 1770.4 989.6 1769.4 991.7 1770.1 992.3 1771.9M992.4 1764.6 990.4 1765.0 988.7 1765.5 986.4 1764.7 985.3 1763.3 987.3 1762.7 989.3 1762.1 991.7 1763.2 992.4 1764.6M976.8 1759.3 975.7 1758.5 974.9 1756.9 974.9 1754.7 976.0 1753.9 977.2 1756.2 977.6 1758.4 976.8 1759.3M978.1 1765.4 978.7 1764.4 981.8 1763.9 984.0 1764.5 983.2 1765.4 981.9 1766.3 978.7 1766.3 978.1 1765.4M985.2 1769.0 984.5 1768.0 984.0 1766.3 985.0 1764.4 986.4 1764.3 986.8 1766.6 986.7 1769.2 985.2 1769.0M979.3 1766.1 978.0 1766.3 976.6 1765.5 977.4 1764.7 978.8 1764.9 979.3 1766.1M986.3 1772.6 986.1 1769.3 989.9 1767.8 992.4 1769.8 989.3 1772.6 986.3 1772.6M991.4 1772.6 991.3 1771.0 993.4 1770.4 994.7 1771.0 992.9 1772.8 991.4 1772.6M993.2 1762.5 993.9 1761.3 996.1 1760.2 997.2 1761.5 996.5 1763.0 994.2 1763.5 993.2 1762.5M981.4 1760.5 982.6 1758.5 986.8 1758.4 989.3 1760.0 986.3 1761.4 983.4 1761.7 981.4 1760.5M980.9 1755.2 979.7 1754.6 978.1 1753.6 976.8 1750.9 977.2 1749.4 978.9 1750.9 980.6 1752.0 981.3 1754.3 980.9 1755.2M982.0 1761.2 984.0 1758.2 986.3 1755.3 988.1 1756.8 988.7 1759.0 985.4 1760.4 982.0 1761.2M975.5 1764.4 975.6 1763.0 976.8 1763.0 977.7 1763.0 978.6 1763.6 978.4 1764.8 977.4 1765.0 976.5 1765.2 975.5 1764.4M978.9 1760.7 979.2 1760.2 980.3 1759.6 981.5 1760.2 981.2 1761.0 980.1 1761.3 979.2 1761.3 978.9 1760.7M985.3 1769.2 984.0 1767.2 982.1 1765.6 983.5 1763.6 985.9 1762.7 987.3 1764.6 987.6 1766.2 987.5 1768.2 985.3 1769.2M979.4 1756.7 978.1 1757.4 975.5 1757.0 972.9 1756.2 973.4 1755.3 975.6 1755.1 978.5 1755.7 979.4 1756.7M994.8 1772.7 993.9 1771.5 993.6 1770.2 994.2 1769.1 995.3 1769.0 996.8 1769.0 996.2 1770.6 996.2 1771.9 994.8 1772.7M997.8 1766.8 995.6 1766.2 993.5 1764.8 994.1 1763.4 995.5 1762.6 997.4 1764.8 997.8 1766.8M986.0 1769.0 983.7 1767.8 984.3 1765.1 986.6 1764.9 987.8 1767.2 986.0 1769.0M982.4 1770.2 979.3 1769.4 978.4 1765.6 981.2 1764.2 983.3 1767.3 982.4 1770.2M989.3 1767.0 987.7 1767.2 986.4 1766.9 986.0 1765.6 986.5 1763.9 988.1 1764.1 989.6 1764.0 989.6 1765.4 989.3 1767.0M982.3 1757.3 981.6 1759.1 979.6 1758.8 978.6 1757.2 978.5 1755.3 980.2 1754.8 981.7 1754.8 983.2 1755.8 982.3 1757.3M758.5 1274.6 757.4 1275.6 755.2 1275.6 754.1 1274.6 755.2 1273.7 757.4 1273.7 758.5 1274.6M734.1 1111.3 733.3 1112.0 732.1 1111.7 732.1 1110.8 733.3 1110.5 734.1 1111.3"/>
</g>
<text x="260.7" y="68" font-size="53" textLength="1398.4" lengthAdjust="spacingAndGlyphs">SAFIRE Severe Fire Danger Index Forecast (2023-08-05)</text>
<rect x="1983" y="92" width="465" height="412" rx="9" ry="9" fill="#fff" stroke="#d6d6d6" stroke-width="4.2"/>
<g shape-rendering="crispEdges">
<rect x="2003" y="115" width="112" height="42" fill="#2c7bb6"/>
<rect x="2003" y="194" width="112" height="42" fill="#abd9e9"/>
<rect x="2003" y="273" width="112" height="42" fill="#ffffbf"/>
<rect x="2003" y="352" width="112" height="42" fill="#fdae61"/>
<rect x="2003" y="431" width="112" height="42" fill="#a50026"/>
</g>
<g font-size="57">
<text x="2155.6" y="155.7" textLength="121.2" lengthAdjust="spacingAndGlyphs">Bajo</text>
<text x="2155.8" y="234.9" textLength="272.1" lengthAdjust="spacingAndGlyphs">Moderado</text>
<text x="2157" y="313.7" textLength="107.9" lengthAdjust="spacingAndGlyphs">Alto</text>
<text x="2155.7" y="393.2" textLength="239.3" lengthAdjust="spacingAndGlyphs">Muy Alto</text>
<text x="2157.8" y="472" textLength="187.3" lengthAdjust="spacingAndGlyphs">Severo</text>
</g>
</svg>
</body></html>
